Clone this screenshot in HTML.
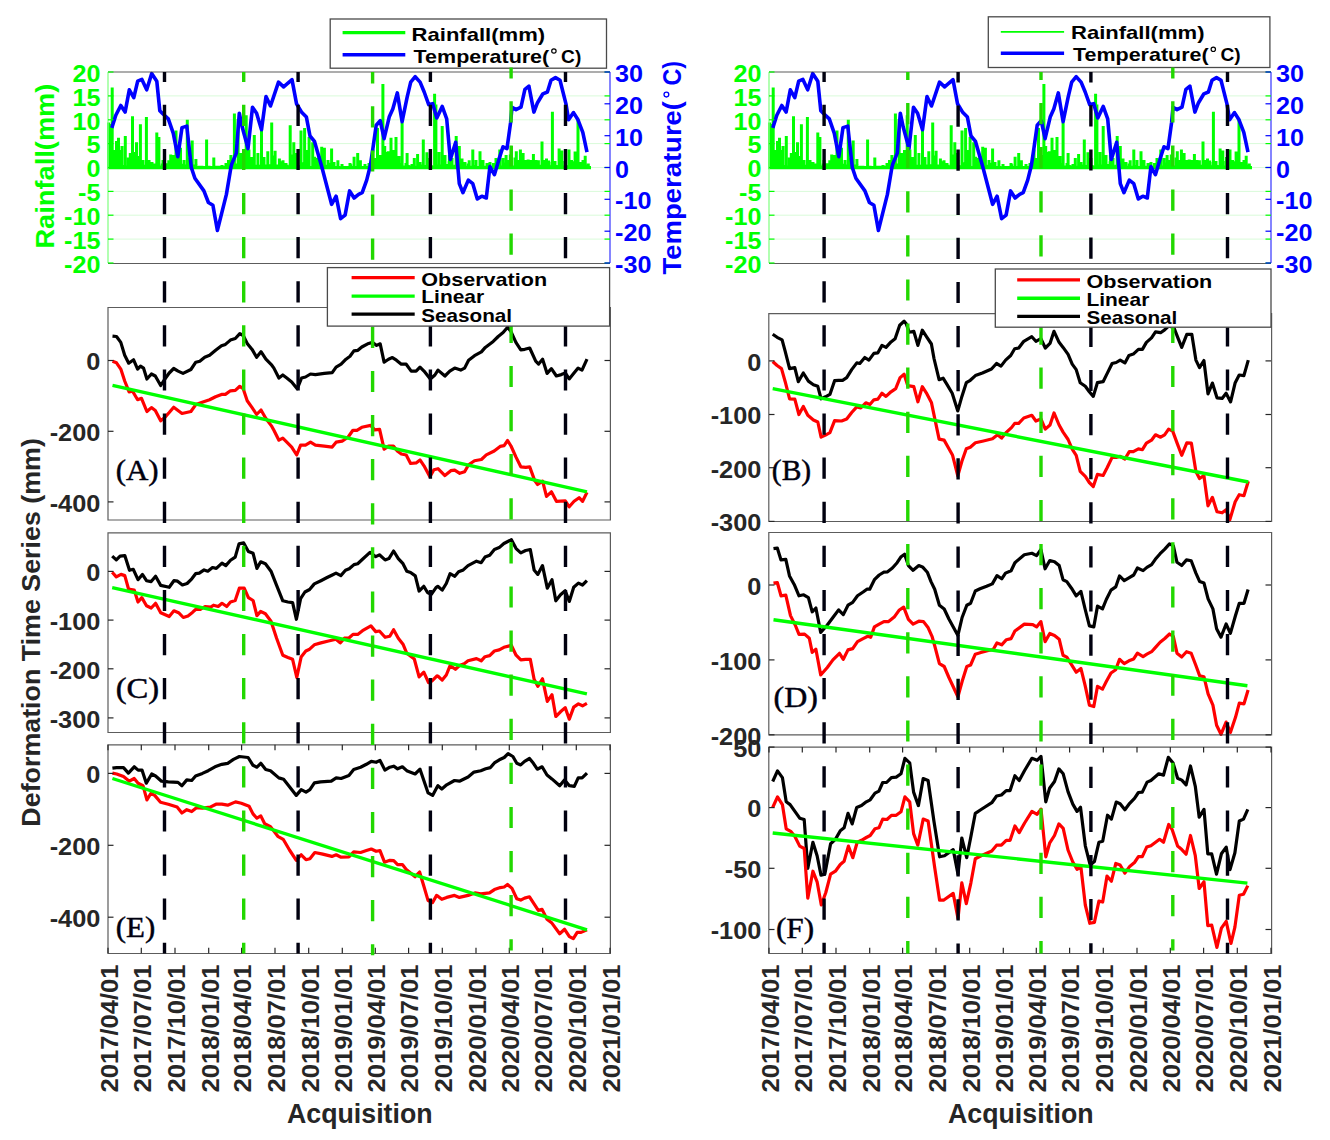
<!DOCTYPE html>
<html><head><meta charset="utf-8"><style>html,body{margin:0;padding:0;background:#fff;}svg{display:block;}</style></head><body>
<svg width="1330" height="1140" viewBox="0 0 1330 1140">
<rect width="1330" height="1140" fill="#fff"/>
<line x1="108" y1="95.9" x2="610" y2="95.9" stroke="#D9FBD9" stroke-width="1" />
<line x1="108" y1="119.8" x2="610" y2="119.8" stroke="#D9FBD9" stroke-width="1" />
<line x1="108" y1="143.6" x2="610" y2="143.6" stroke="#D9FBD9" stroke-width="1" />
<line x1="108" y1="167.5" x2="610" y2="167.5" stroke="#D9FBD9" stroke-width="1" />
<line x1="108" y1="191.4" x2="610" y2="191.4" stroke="#D9FBD9" stroke-width="1" />
<line x1="108" y1="215.2" x2="610" y2="215.2" stroke="#D9FBD9" stroke-width="1" />
<line x1="108" y1="239.1" x2="610" y2="239.1" stroke="#D9FBD9" stroke-width="1" />
<path d="M108 160.9h3.0V169.2h-3.0zM109.2 166.1h3.0V169.2h-3.0zM110.4 162.4h3.0V169.2h-3.0zM111.6 166.1h3.0V169.2h-3.0zM112.8 163.6h3.0V169.2h-3.0zM114 163.6h3.0V169.2h-3.0zM115.2 165.1h3.0V169.2h-3.0zM116.4 165.2h3.0V169.2h-3.0zM117.6 155.6h3.0V169.2h-3.0zM118.8 165.1h3.0V169.2h-3.0zM120 165.6h3.0V169.2h-3.0zM121.2 165.9h3.0V169.2h-3.0zM122.4 165h3.0V169.2h-3.0zM123.6 164.9h3.0V169.2h-3.0zM124.8 165.8h3.0V169.2h-3.0zM126 165.4h3.0V169.2h-3.0zM127.2 165.1h3.0V169.2h-3.0zM128.4 165.7h3.0V169.2h-3.0zM129.6 164.9h3.0V169.2h-3.0zM130.8 165.2h3.0V169.2h-3.0zM132 164.6h3.0V169.2h-3.0zM133.2 165.7h3.0V169.2h-3.0zM134.4 166h3.0V169.2h-3.0zM135.6 161.8h3.0V169.2h-3.0zM136.8 166.1h3.0V169.2h-3.0zM138 164.8h3.0V169.2h-3.0zM139.2 164.6h3.0V169.2h-3.0zM140.4 164.9h3.0V169.2h-3.0zM141.6 165.2h3.0V169.2h-3.0zM142.8 164.7h3.0V169.2h-3.0zM144 165.3h3.0V169.2h-3.0zM145.2 166.1h3.0V169.2h-3.0zM146.4 165h3.0V169.2h-3.0zM147.6 164.7h3.0V169.2h-3.0zM148.8 165.5h3.0V169.2h-3.0zM150 166.2h3.0V169.2h-3.0zM151.2 165.6h3.0V169.2h-3.0zM152.4 163.5h3.0V169.2h-3.0zM153.6 165.5h3.0V169.2h-3.0zM154.8 166.1h3.0V169.2h-3.0zM156 165.2h3.0V169.2h-3.0zM157.2 164.7h3.0V169.2h-3.0zM158.4 165.7h3.0V169.2h-3.0zM159.6 165.6h3.0V169.2h-3.0zM160.8 163.6h3.0V169.2h-3.0zM162 165.8h3.0V169.2h-3.0zM163.2 165.3h3.0V169.2h-3.0zM164.4 163.3h3.0V169.2h-3.0zM165.6 165.5h3.0V169.2h-3.0zM166.8 164.5h3.0V169.2h-3.0zM168 165.3h3.0V169.2h-3.0zM169.2 154.6h3.0V169.2h-3.0zM170.4 164.8h3.0V169.2h-3.0zM171.6 164.8h3.0V169.2h-3.0zM172.8 161h3.0V169.2h-3.0zM174 165h3.0V169.2h-3.0zM175.2 165.9h3.0V169.2h-3.0zM176.4 165.4h3.0V169.2h-3.0zM177.6 166h3.0V169.2h-3.0zM178.8 166.2h3.0V169.2h-3.0zM180 163.8h3.0V169.2h-3.0zM181.2 165.6h3.0V169.2h-3.0zM182.4 166h3.0V169.2h-3.0zM183.6 164.4h3.0V169.2h-3.0zM184.8 164.8h3.0V169.2h-3.0zM186 165.6h3.0V169.2h-3.0zM187.2 164.6h3.0V169.2h-3.0zM188.4 164.5h3.0V169.2h-3.0zM189.6 165.9h3.0V169.2h-3.0zM190.8 166.2h3.0V169.2h-3.0zM192 164.4h3.0V169.2h-3.0zM193.2 164.9h3.0V169.2h-3.0zM194.4 158.9h3.0V169.2h-3.0zM195.6 166h3.0V169.2h-3.0zM196.8 166.1h3.0V169.2h-3.0zM198 165.8h3.0V169.2h-3.0zM199.2 165.8h3.0V169.2h-3.0zM200.4 165.8h3.0V169.2h-3.0zM201.6 166.1h3.0V169.2h-3.0zM202.8 166h3.0V169.2h-3.0zM204 166.1h3.0V169.2h-3.0zM205.2 165.9h3.0V169.2h-3.0zM206.4 166h3.0V169.2h-3.0zM207.6 165.8h3.0V169.2h-3.0zM208.8 166h3.0V169.2h-3.0zM210 166.1h3.0V169.2h-3.0zM211.2 166.1h3.0V169.2h-3.0zM212.4 165.8h3.0V169.2h-3.0zM213.6 166h3.0V169.2h-3.0zM214.8 165.8h3.0V169.2h-3.0zM216 165.9h3.0V169.2h-3.0zM217.2 165.8h3.0V169.2h-3.0zM218.4 166h3.0V169.2h-3.0zM219.6 165.8h3.0V169.2h-3.0zM220.8 165.8h3.0V169.2h-3.0zM222 166h3.0V169.2h-3.0zM223.2 165.8h3.0V169.2h-3.0zM224.4 166.1h3.0V169.2h-3.0zM225.6 166.1h3.0V169.2h-3.0zM226.8 165.8h3.0V169.2h-3.0zM228 165.8h3.0V169.2h-3.0zM229.2 165.9h3.0V169.2h-3.0zM230.4 165.1h3.0V169.2h-3.0zM231.6 164.5h3.0V169.2h-3.0zM232.8 165.3h3.0V169.2h-3.0zM234 165.4h3.0V169.2h-3.0zM235.2 163.4h3.0V169.2h-3.0zM236.4 165.7h3.0V169.2h-3.0zM237.6 165.1h3.0V169.2h-3.0zM238.8 154.6h3.0V169.2h-3.0zM240 165.6h3.0V169.2h-3.0zM241.2 165.1h3.0V169.2h-3.0zM242.4 165.4h3.0V169.2h-3.0zM243.6 165.3h3.0V169.2h-3.0zM244.8 162.6h3.0V169.2h-3.0zM246 158.6h3.0V169.2h-3.0zM247.2 165.9h3.0V169.2h-3.0zM248.4 164.9h3.0V169.2h-3.0zM249.6 165.6h3.0V169.2h-3.0zM250.8 165.2h3.0V169.2h-3.0zM252 166h3.0V169.2h-3.0zM253.2 165.8h3.0V169.2h-3.0zM254.4 164.8h3.0V169.2h-3.0zM255.6 165.2h3.0V169.2h-3.0zM256.8 164.6h3.0V169.2h-3.0zM258 165.1h3.0V169.2h-3.0zM259.2 165.3h3.0V169.2h-3.0zM260.4 165.4h3.0V169.2h-3.0zM261.6 165.3h3.0V169.2h-3.0zM262.8 164.9h3.0V169.2h-3.0zM264 164.5h3.0V169.2h-3.0zM265.2 165.2h3.0V169.2h-3.0zM266.4 164.1h3.0V169.2h-3.0zM267.6 164.2h3.0V169.2h-3.0zM268.8 166.1h3.0V169.2h-3.0zM270 164.8h3.0V169.2h-3.0zM271.2 165.9h3.0V169.2h-3.0zM272.4 155.4h3.0V169.2h-3.0zM273.6 150.7h3.0V169.2h-3.0zM274.8 165.5h3.0V169.2h-3.0zM276 164.4h3.0V169.2h-3.0zM277.2 165.9h3.0V169.2h-3.0zM278.4 165.3h3.0V169.2h-3.0zM279.6 165.8h3.0V169.2h-3.0zM280.8 161.3h3.0V169.2h-3.0zM282 163.6h3.0V169.2h-3.0zM283.2 165.1h3.0V169.2h-3.0zM284.4 166.1h3.0V169.2h-3.0zM285.6 164.8h3.0V169.2h-3.0zM286.8 166h3.0V169.2h-3.0zM288 166.1h3.0V169.2h-3.0zM289.2 163.2h3.0V169.2h-3.0zM290.4 164.6h3.0V169.2h-3.0zM291.6 154.4h3.0V169.2h-3.0zM292.8 165.2h3.0V169.2h-3.0zM294 160.8h3.0V169.2h-3.0zM295.2 152.9h3.0V169.2h-3.0zM296.4 165.1h3.0V169.2h-3.0zM297.6 166h3.0V169.2h-3.0zM298.8 166.1h3.0V169.2h-3.0zM300 165.4h3.0V169.2h-3.0zM301.2 165.2h3.0V169.2h-3.0zM302.4 162.3h3.0V169.2h-3.0zM303.6 165h3.0V169.2h-3.0zM304.8 164.4h3.0V169.2h-3.0zM306 165.7h3.0V169.2h-3.0zM307.2 165.7h3.0V169.2h-3.0zM308.4 165.9h3.0V169.2h-3.0zM309.6 166.2h3.0V169.2h-3.0zM310.8 166.2h3.0V169.2h-3.0zM312 162.3h3.0V169.2h-3.0zM313.2 156.8h3.0V169.2h-3.0zM314.4 165.4h3.0V169.2h-3.0zM315.6 164.7h3.0V169.2h-3.0zM316.8 165.3h3.0V169.2h-3.0zM318 164.4h3.0V169.2h-3.0zM319.2 164.7h3.0V169.2h-3.0zM320.4 165.1h3.0V169.2h-3.0zM321.6 164.9h3.0V169.2h-3.0zM322.8 166.1h3.0V169.2h-3.0zM324 165.3h3.0V169.2h-3.0zM325.2 164.7h3.0V169.2h-3.0zM326.4 165h3.0V169.2h-3.0zM327.6 165.8h3.0V169.2h-3.0zM328.8 162.7h3.0V169.2h-3.0zM330 165.7h3.0V169.2h-3.0zM331.2 164.4h3.0V169.2h-3.0zM332.4 166.1h3.0V169.2h-3.0zM333.6 166.1h3.0V169.2h-3.0zM334.8 166.2h3.0V169.2h-3.0zM336 166h3.0V169.2h-3.0zM337.2 166.1h3.0V169.2h-3.0zM338.4 166.2h3.0V169.2h-3.0zM339.6 166.2h3.0V169.2h-3.0zM340.8 165.9h3.0V169.2h-3.0zM342 166.1h3.0V169.2h-3.0zM343.2 166h3.0V169.2h-3.0zM344.4 166h3.0V169.2h-3.0zM345.6 165.9h3.0V169.2h-3.0zM346.8 166.1h3.0V169.2h-3.0zM348 166.1h3.0V169.2h-3.0zM349.2 164.3h3.0V169.2h-3.0zM350.4 165.9h3.0V169.2h-3.0zM351.6 165.9h3.0V169.2h-3.0zM352.8 166.1h3.0V169.2h-3.0zM354 166h3.0V169.2h-3.0zM355.2 165.9h3.0V169.2h-3.0zM356.4 166h3.0V169.2h-3.0zM357.6 166h3.0V169.2h-3.0zM358.8 166h3.0V169.2h-3.0zM360 166.1h3.0V169.2h-3.0zM361.2 165.9h3.0V169.2h-3.0zM362.4 166h3.0V169.2h-3.0zM363.6 166h3.0V169.2h-3.0zM364.8 166.2h3.0V169.2h-3.0zM366 165.9h3.0V169.2h-3.0zM367.2 166h3.0V169.2h-3.0zM368.4 166.1h3.0V169.2h-3.0zM369.6 164.4h3.0V169.2h-3.0zM370.8 158.8h3.0V169.2h-3.0zM372 164.4h3.0V169.2h-3.0zM373.2 165.5h3.0V169.2h-3.0zM374.4 165h3.0V169.2h-3.0zM375.6 165.1h3.0V169.2h-3.0zM376.8 164.7h3.0V169.2h-3.0zM378 164.9h3.0V169.2h-3.0zM379.2 164.9h3.0V169.2h-3.0zM380.4 165.7h3.0V169.2h-3.0zM381.6 165h3.0V169.2h-3.0zM382.8 165.7h3.0V169.2h-3.0zM384 165.4h3.0V169.2h-3.0zM385.2 166h3.0V169.2h-3.0zM386.4 165.8h3.0V169.2h-3.0zM387.6 161.8h3.0V169.2h-3.0zM388.8 164.7h3.0V169.2h-3.0zM390 165.4h3.0V169.2h-3.0zM391.2 165.8h3.0V169.2h-3.0zM392.4 165.8h3.0V169.2h-3.0zM393.6 165.9h3.0V169.2h-3.0zM394.8 156.8h3.0V169.2h-3.0zM396 165.3h3.0V169.2h-3.0zM397.2 164.9h3.0V169.2h-3.0zM398.4 164.6h3.0V169.2h-3.0zM399.6 163.1h3.0V169.2h-3.0zM400.8 165.4h3.0V169.2h-3.0zM402 165.9h3.0V169.2h-3.0zM403.2 165.6h3.0V169.2h-3.0zM404.4 166.2h3.0V169.2h-3.0zM405.6 152.9h3.0V169.2h-3.0zM406.8 164.9h3.0V169.2h-3.0zM408 165.7h3.0V169.2h-3.0zM409.2 165.5h3.0V169.2h-3.0zM410.4 165.1h3.0V169.2h-3.0zM411.6 165.4h3.0V169.2h-3.0zM412.8 158h3.0V169.2h-3.0zM414 165.7h3.0V169.2h-3.0zM415.2 165.8h3.0V169.2h-3.0zM416.4 163.2h3.0V169.2h-3.0zM417.6 164.5h3.0V169.2h-3.0zM418.8 164.7h3.0V169.2h-3.0zM420 164.6h3.0V169.2h-3.0zM421.2 165.2h3.0V169.2h-3.0zM422.4 166.1h3.0V169.2h-3.0zM423.6 165.4h3.0V169.2h-3.0zM424.8 165h3.0V169.2h-3.0zM426 166.1h3.0V169.2h-3.0zM427.2 166h3.0V169.2h-3.0zM428.4 165.6h3.0V169.2h-3.0zM429.6 164.9h3.0V169.2h-3.0zM430.8 165.7h3.0V169.2h-3.0zM432 165.7h3.0V169.2h-3.0zM433.2 164.7h3.0V169.2h-3.0zM434.4 165.8h3.0V169.2h-3.0zM435.6 165.3h3.0V169.2h-3.0zM436.8 164.6h3.0V169.2h-3.0zM438 164.4h3.0V169.2h-3.0zM439.2 166h3.0V169.2h-3.0zM440.4 166h3.0V169.2h-3.0zM441.6 165.7h3.0V169.2h-3.0zM442.8 164.6h3.0V169.2h-3.0zM444 165.5h3.0V169.2h-3.0zM445.2 165.3h3.0V169.2h-3.0zM446.4 164.1h3.0V169.2h-3.0zM447.6 161.3h3.0V169.2h-3.0zM448.8 165.1h3.0V169.2h-3.0zM450 165.8h3.0V169.2h-3.0zM451.2 165.8h3.0V169.2h-3.0zM452.4 165.4h3.0V169.2h-3.0zM453.6 164.7h3.0V169.2h-3.0zM454.8 160.6h3.0V169.2h-3.0zM456 164.6h3.0V169.2h-3.0zM457.2 162.9h3.0V169.2h-3.0zM458.4 164.5h3.0V169.2h-3.0zM459.6 164.7h3.0V169.2h-3.0zM460.8 166h3.0V169.2h-3.0zM462 166.1h3.0V169.2h-3.0zM463.2 165.8h3.0V169.2h-3.0zM464.4 165.7h3.0V169.2h-3.0zM465.6 165.7h3.0V169.2h-3.0zM466.8 163.5h3.0V169.2h-3.0zM468 166.1h3.0V169.2h-3.0zM469.2 165.8h3.0V169.2h-3.0zM470.4 166.1h3.0V169.2h-3.0zM471.6 165.8h3.0V169.2h-3.0zM472.8 165h3.0V169.2h-3.0zM474 165.8h3.0V169.2h-3.0zM475.2 166.1h3.0V169.2h-3.0zM476.4 166.2h3.0V169.2h-3.0zM477.6 165.9h3.0V169.2h-3.0zM478.8 165.8h3.0V169.2h-3.0zM480 165.9h3.0V169.2h-3.0zM481.2 166h3.0V169.2h-3.0zM482.4 165.8h3.0V169.2h-3.0zM483.6 166.2h3.0V169.2h-3.0zM484.8 165.8h3.0V169.2h-3.0zM486 166h3.0V169.2h-3.0zM487.2 165.6h3.0V169.2h-3.0zM488.4 166.2h3.0V169.2h-3.0zM489.6 165.9h3.0V169.2h-3.0zM490.8 166.1h3.0V169.2h-3.0zM492 165.7h3.0V169.2h-3.0zM493.2 166.1h3.0V169.2h-3.0zM494.4 166h3.0V169.2h-3.0zM495.6 165.8h3.0V169.2h-3.0zM496.8 165h3.0V169.2h-3.0zM498 164.7h3.0V169.2h-3.0zM499.2 165.9h3.0V169.2h-3.0zM500.4 165.5h3.0V169.2h-3.0zM501.6 162.6h3.0V169.2h-3.0zM502.8 165.9h3.0V169.2h-3.0zM504 165.7h3.0V169.2h-3.0zM505.2 165.6h3.0V169.2h-3.0zM506.4 164.8h3.0V169.2h-3.0zM507.6 164.6h3.0V169.2h-3.0zM508.8 154.5h3.0V169.2h-3.0zM510 160.6h3.0V169.2h-3.0zM511.2 165.6h3.0V169.2h-3.0zM512.4 165.7h3.0V169.2h-3.0zM513.6 165.7h3.0V169.2h-3.0zM514.8 151.2h3.0V169.2h-3.0zM516 165.9h3.0V169.2h-3.0zM517.2 164.9h3.0V169.2h-3.0zM518.4 162.9h3.0V169.2h-3.0zM519.6 165.6h3.0V169.2h-3.0zM520.8 165.9h3.0V169.2h-3.0zM522 162.6h3.0V169.2h-3.0zM523.2 164.9h3.0V169.2h-3.0zM524.4 165.9h3.0V169.2h-3.0zM525.6 164.7h3.0V169.2h-3.0zM526.8 165h3.0V169.2h-3.0zM528 165.7h3.0V169.2h-3.0zM529.2 164.6h3.0V169.2h-3.0zM530.4 165.8h3.0V169.2h-3.0zM531.6 165.7h3.0V169.2h-3.0zM532.8 166.2h3.0V169.2h-3.0zM534 164.7h3.0V169.2h-3.0zM535.2 163.6h3.0V169.2h-3.0zM536.4 165.4h3.0V169.2h-3.0zM537.6 164.7h3.0V169.2h-3.0zM538.8 165.8h3.0V169.2h-3.0zM540 165.4h3.0V169.2h-3.0zM541.2 165.9h3.0V169.2h-3.0zM542.4 165h3.0V169.2h-3.0zM543.6 164.9h3.0V169.2h-3.0zM544.8 165.7h3.0V169.2h-3.0zM546 165.6h3.0V169.2h-3.0zM547.2 160.4h3.0V169.2h-3.0zM548.4 165.7h3.0V169.2h-3.0zM549.6 165.3h3.0V169.2h-3.0zM550.8 164.6h3.0V169.2h-3.0zM552 164.6h3.0V169.2h-3.0zM553.2 163.3h3.0V169.2h-3.0zM554.4 165.1h3.0V169.2h-3.0zM555.6 165.8h3.0V169.2h-3.0zM556.8 165.2h3.0V169.2h-3.0zM558 165h3.0V169.2h-3.0zM559.2 157.7h3.0V169.2h-3.0zM560.4 165.7h3.0V169.2h-3.0zM561.6 165.6h3.0V169.2h-3.0zM562.8 165.9h3.0V169.2h-3.0zM564 157.1h3.0V169.2h-3.0zM565.2 165.3h3.0V169.2h-3.0zM566.4 165.6h3.0V169.2h-3.0zM567.6 165.4h3.0V169.2h-3.0zM568.8 164.9h3.0V169.2h-3.0zM570 162h3.0V169.2h-3.0zM571.2 164.9h3.0V169.2h-3.0zM572.4 163.3h3.0V169.2h-3.0zM573.6 151.4h3.0V169.2h-3.0zM574.8 165.3h3.0V169.2h-3.0zM576 165.6h3.0V169.2h-3.0zM577.2 165.5h3.0V169.2h-3.0zM578.4 164.9h3.0V169.2h-3.0zM579.6 166h3.0V169.2h-3.0zM580.8 165.2h3.0V169.2h-3.0zM582 164.7h3.0V169.2h-3.0zM583.2 165.8h3.0V169.2h-3.0zM584.4 165.1h3.0V169.2h-3.0zM585.6 166.2h3.0V169.2h-3.0zM586.8 163.6h3.0V169.2h-3.0zM588 165.9h3.0V169.2h-3.0zM107.1 122.5h3.0V169.2h-3.0zM108.8 124h3.0V169.2h-3.0zM110.7 87.5h3.0V169.2h-3.0zM113 150h3.0V169.2h-3.0zM115 141h3.0V169.2h-3.0zM117 137.8h3.0V169.2h-3.0zM118.8 150h3.0V169.2h-3.0zM120.5 145.9h3.0V169.2h-3.0zM123.8 136h3.0V169.2h-3.0zM126.9 157.6h3.0V169.2h-3.0zM128.8 153h3.0V169.2h-3.0zM131 116.2h3.0V169.2h-3.0zM133 152h3.0V169.2h-3.0zM135 142.3h3.0V169.2h-3.0zM137 156h3.0V169.2h-3.0zM138.9 124.3h3.0V169.2h-3.0zM141.5 160h3.0V169.2h-3.0zM144.9 117.1h3.0V169.2h-3.0zM147.5 160h3.0V169.2h-3.0zM150.5 162h3.0V169.2h-3.0zM155.3 132.4h3.0V169.2h-3.0zM157.4 136.9h3.0V169.2h-3.0zM161.5 160h3.0V169.2h-3.0zM167.3 160.3h3.0V169.2h-3.0zM169.5 161h3.0V169.2h-3.0zM172 155h3.0V169.2h-3.0zM174.5 130.6h3.0V169.2h-3.0zM176.5 158h3.0V169.2h-3.0zM179 147.7h3.0V169.2h-3.0zM182.5 160h3.0V169.2h-3.0zM185.8 119.8h3.0V169.2h-3.0zM188 158h3.0V169.2h-3.0zM190.7 140.5h3.0V169.2h-3.0zM194.5 164h3.0V169.2h-3.0zM205.1 139.6h3.0V169.2h-3.0zM212.3 157.6h3.0V169.2h-3.0zM220.5 165h3.0V169.2h-3.0zM224.5 163h3.0V169.2h-3.0zM227 160h3.0V169.2h-3.0zM229.4 154.9h3.0V169.2h-3.0zM232.9 113.5h3.0V169.2h-3.0zM236.6 118.9h3.0V169.2h-3.0zM239.6 153.1h3.0V169.2h-3.0zM242 150h3.0V169.2h-3.0zM244.7 115.3h3.0V169.2h-3.0zM247.4 149.5h3.0V169.2h-3.0zM250 157h3.0V169.2h-3.0zM252.8 135.1h3.0V169.2h-3.0zM256.4 153h3.0V169.2h-3.0zM260 129.7h3.0V169.2h-3.0zM262.5 157h3.0V169.2h-3.0zM266.3 151.3h3.0V169.2h-3.0zM270.2 122.5h3.0V169.2h-3.0zM273.5 162h3.0V169.2h-3.0zM277.9 158.5h3.0V169.2h-3.0zM281.5 160.3h3.0V169.2h-3.0zM284.5 163h3.0V169.2h-3.0zM288.7 125.2h3.0V169.2h-3.0zM292.3 142.3h3.0V169.2h-3.0zM295.5 160h3.0V169.2h-3.0zM299.5 130.6h3.0V169.2h-3.0zM303.1 127.9h3.0V169.2h-3.0zM305.5 150h3.0V169.2h-3.0zM307.6 136.9h3.0V169.2h-3.0zM311.2 142.3h3.0V169.2h-3.0zM314.5 158h3.0V169.2h-3.0zM317.5 156h3.0V169.2h-3.0zM320.2 146.8h3.0V169.2h-3.0zM322.9 147.7h3.0V169.2h-3.0zM326.5 160h3.0V169.2h-3.0zM330.1 148.6h3.0V169.2h-3.0zM332.5 162h3.0V169.2h-3.0zM336.4 160.3h3.0V169.2h-3.0zM340.5 164h3.0V169.2h-3.0zM348.5 163h3.0V169.2h-3.0zM352.6 156.7h3.0V169.2h-3.0zM356.2 153.1h3.0V169.2h-3.0zM358.9 160.3h3.0V169.2h-3.0zM363.5 164h3.0V169.2h-3.0zM367.5 163h3.0V169.2h-3.0zM371.5 149.5h3.0V169.2h-3.0zM373.5 158h3.0V169.2h-3.0zM376 127.9h3.0V169.2h-3.0zM379 155h3.0V169.2h-3.0zM381.4 83.9h3.0V169.2h-3.0zM383.2 145.9h3.0V169.2h-3.0zM385 152h3.0V169.2h-3.0zM386.8 151.3h3.0V169.2h-3.0zM389.5 137.8h3.0V169.2h-3.0zM392 150h3.0V169.2h-3.0zM394.5 136.9h3.0V169.2h-3.0zM397.5 156h3.0V169.2h-3.0zM400.6 122.5h3.0V169.2h-3.0zM404.5 163h3.0V169.2h-3.0zM410.5 164h3.0V169.2h-3.0zM416.1 154h3.0V169.2h-3.0zM418.5 162h3.0V169.2h-3.0zM421.8 139.6h3.0V169.2h-3.0zM425.4 152.2h3.0V169.2h-3.0zM428.5 158h3.0V169.2h-3.0zM433.1 93.8h3.0V169.2h-3.0zM434.4 104.6h3.0V169.2h-3.0zM437.5 152h3.0V169.2h-3.0zM440.7 126.1h3.0V169.2h-3.0zM443.5 155h3.0V169.2h-3.0zM447.9 154.9h3.0V169.2h-3.0zM450.5 158h3.0V169.2h-3.0zM454.7 136h3.0V169.2h-3.0zM457.8 145.9h3.0V169.2h-3.0zM460.5 158.5h3.0V169.2h-3.0zM463.5 162h3.0V169.2h-3.0zM467.7 160.3h3.0V169.2h-3.0zM471.3 149.5h3.0V169.2h-3.0zM474.5 160h3.0V169.2h-3.0zM478.5 151.3h3.0V169.2h-3.0zM481.5 160h3.0V169.2h-3.0zM485.5 163h3.0V169.2h-3.0zM488.5 162h3.0V169.2h-3.0zM492 163h3.0V169.2h-3.0zM494.5 158h3.0V169.2h-3.0zM498.3 149.5h3.0V169.2h-3.0zM501.5 158h3.0V169.2h-3.0zM504.6 154.9h3.0V169.2h-3.0zM507 160h3.0V169.2h-3.0zM510 145.9h3.0V169.2h-3.0zM513.5 157.6h3.0V169.2h-3.0zM516.5 160h3.0V169.2h-3.0zM518.9 149.5h3.0V169.2h-3.0zM521.6 153.1h3.0V169.2h-3.0zM524.5 160h3.0V169.2h-3.0zM526.7 159.4h3.0V169.2h-3.0zM529.5 160h3.0V169.2h-3.0zM531.9 154h3.0V169.2h-3.0zM534.5 160h3.0V169.2h-3.0zM536.9 160.3h3.0V169.2h-3.0zM540.5 141.4h3.0V169.2h-3.0zM542.5 160h3.0V169.2h-3.0zM545 158.5h3.0V169.2h-3.0zM547.5 162h3.0V169.2h-3.0zM550.9 111.7h3.0V169.2h-3.0zM553.5 161h3.0V169.2h-3.0zM557.6 148.6h3.0V169.2h-3.0zM560.3 150.4h3.0V169.2h-3.0zM563.5 161h3.0V169.2h-3.0zM567.5 149.5h3.0V169.2h-3.0zM570 160h3.0V169.2h-3.0zM572.9 161.2h3.0V169.2h-3.0zM576.5 118.9h3.0V169.2h-3.0zM579.5 162h3.0V169.2h-3.0zM581.5 160h3.0V169.2h-3.0zM583.7 155.8h3.0V169.2h-3.0z" fill="#00FF00"/>
<polyline points="111.8,127.9 115.8,115.3 120.8,105.5 125.1,112.1 129.3,89.8 133.8,97.7 137.7,81.2 141.9,79.4 146.7,89.8 151.7,73.6 156.8,81.2 159.8,110.8 162.5,113.5 168.3,118.9 173.3,133.3 177.8,156.7 182,127.6 186.8,126.1 191.3,167.5 194.9,178.3 203.9,190.9 208.4,202.5 212.9,205.2 217.4,230.4 221.9,212.4 226.4,194.4 230.9,167.5 231.8,163.9 236.3,153.1 239.3,113.2 242.2,127 248,148.6 252.5,107.3 256.6,113.2 261.5,129.7 266,96.5 270.5,106 278.5,82.1 283.6,86.9 292,79.7 296.5,103.7 301.9,112.6 306.4,117.1 310,136 314.5,141.4 321.7,166.6 331.6,204.3 336.1,196.2 340.6,218.7 345.1,215.1 349.6,190.9 354.1,198 358.6,194.4 362.2,192.7 366.7,180.1 370.3,165.7 373,147.7 376.2,125.2 380.2,120.7 384.1,138.7 389.2,117.1 392.8,109 397.3,92.9 402.1,121.6 407.1,97.4 410.7,82.1 415.2,76.7 420.1,82.1 424.2,92 428.7,104.6 432.7,103.7 436.8,118 442.2,106.4 446.7,118.9 450.3,159.4 455.7,142.3 459.3,183.7 462.9,192.7 468.3,180.1 472.8,183.7 477.3,198.9 481.8,196.2 486.3,198 489.9,166.6 494.4,174.7 498.9,159.4 503,146.8 507,148.6 510.6,122.5 512,107.2 516,109.6 521,107.2 524.9,89.3 528.9,86.2 533.9,112.1 537.5,102.7 542.9,93.8 547.4,92 551,80.3 555.5,77.6 560,80.3 565.9,103.6 568.6,119.8 573.5,112.6 578,119.8 582.8,132.4 587,152.2" fill="none" stroke="#0000FF" stroke-width="3.6" stroke-linejoin="round" stroke-linecap="butt" />
<line x1="108" y1="72" x2="610" y2="72" stroke="#262626" stroke-width="1.2" stroke-opacity="0.75"/>
<line x1="108" y1="263.5" x2="610" y2="263.5" stroke="#262626" stroke-width="1.2" stroke-opacity="0.75"/>
<line x1="108" y1="72" x2="108" y2="263" stroke="#88ff88" stroke-width="1.3" />
<line x1="610" y1="72" x2="610" y2="263" stroke="#3333ff" stroke-width="1.2" />
<line x1="108" y1="72" x2="113.5" y2="72" stroke="#00FF00" stroke-width="1.2" />
<line x1="604.5" y1="72" x2="610" y2="72" stroke="#00FF00" stroke-width="1.2" />
<text x="100.4" y="81.8" font-family='"Liberation Sans", sans-serif' font-size="24" font-weight="bold" fill="#00FF00" text-anchor="end" textLength="28" lengthAdjust="spacingAndGlyphs" >20</text>
<line x1="108" y1="95.9" x2="113.5" y2="95.9" stroke="#00FF00" stroke-width="1.2" />
<line x1="604.5" y1="95.9" x2="610" y2="95.9" stroke="#00FF00" stroke-width="1.2" />
<text x="100.4" y="105.7" font-family='"Liberation Sans", sans-serif' font-size="24" font-weight="bold" fill="#00FF00" text-anchor="end" textLength="28" lengthAdjust="spacingAndGlyphs" >15</text>
<line x1="108" y1="119.8" x2="113.5" y2="119.8" stroke="#00FF00" stroke-width="1.2" />
<line x1="604.5" y1="119.8" x2="610" y2="119.8" stroke="#00FF00" stroke-width="1.2" />
<text x="100.4" y="129.6" font-family='"Liberation Sans", sans-serif' font-size="24" font-weight="bold" fill="#00FF00" text-anchor="end" textLength="28" lengthAdjust="spacingAndGlyphs" >10</text>
<line x1="108" y1="143.6" x2="113.5" y2="143.6" stroke="#00FF00" stroke-width="1.2" />
<line x1="604.5" y1="143.6" x2="610" y2="143.6" stroke="#00FF00" stroke-width="1.2" />
<text x="100.4" y="153.4" font-family='"Liberation Sans", sans-serif' font-size="24" font-weight="bold" fill="#00FF00" text-anchor="end" textLength="14" lengthAdjust="spacingAndGlyphs" >5</text>
<line x1="108" y1="167.5" x2="113.5" y2="167.5" stroke="#00FF00" stroke-width="1.2" />
<line x1="604.5" y1="167.5" x2="610" y2="167.5" stroke="#00FF00" stroke-width="1.2" />
<text x="100.4" y="177.3" font-family='"Liberation Sans", sans-serif' font-size="24" font-weight="bold" fill="#00FF00" text-anchor="end" textLength="14" lengthAdjust="spacingAndGlyphs" >0</text>
<line x1="108" y1="191.4" x2="113.5" y2="191.4" stroke="#00FF00" stroke-width="1.2" />
<line x1="604.5" y1="191.4" x2="610" y2="191.4" stroke="#00FF00" stroke-width="1.2" />
<text x="100.4" y="201.2" font-family='"Liberation Sans", sans-serif' font-size="24" font-weight="bold" fill="#00FF00" text-anchor="end" textLength="22.4" lengthAdjust="spacingAndGlyphs" >-5</text>
<line x1="108" y1="215.2" x2="113.5" y2="215.2" stroke="#00FF00" stroke-width="1.2" />
<line x1="604.5" y1="215.2" x2="610" y2="215.2" stroke="#00FF00" stroke-width="1.2" />
<text x="100.4" y="225.1" font-family='"Liberation Sans", sans-serif' font-size="24" font-weight="bold" fill="#00FF00" text-anchor="end" textLength="36.4" lengthAdjust="spacingAndGlyphs" >-10</text>
<line x1="108" y1="239.1" x2="113.5" y2="239.1" stroke="#00FF00" stroke-width="1.2" />
<line x1="604.5" y1="239.1" x2="610" y2="239.1" stroke="#00FF00" stroke-width="1.2" />
<text x="100.4" y="248.9" font-family='"Liberation Sans", sans-serif' font-size="24" font-weight="bold" fill="#00FF00" text-anchor="end" textLength="36.4" lengthAdjust="spacingAndGlyphs" >-15</text>
<line x1="108" y1="263" x2="113.5" y2="263" stroke="#00FF00" stroke-width="1.2" />
<line x1="604.5" y1="263" x2="610" y2="263" stroke="#00FF00" stroke-width="1.2" />
<text x="100.4" y="272.8" font-family='"Liberation Sans", sans-serif' font-size="24" font-weight="bold" fill="#00FF00" text-anchor="end" textLength="36.4" lengthAdjust="spacingAndGlyphs" >-20</text>
<line x1="604.5" y1="72" x2="610" y2="72" stroke="#0000FF" stroke-width="1.2" />
<text x="615" y="82.1" font-family='"Liberation Sans", sans-serif' font-size="24" font-weight="bold" fill="#0000FF" textLength="28" lengthAdjust="spacingAndGlyphs" >30</text>
<line x1="604.5" y1="103.8" x2="610" y2="103.8" stroke="#0000FF" stroke-width="1.2" />
<text x="615" y="113.9" font-family='"Liberation Sans", sans-serif' font-size="24" font-weight="bold" fill="#0000FF" textLength="28" lengthAdjust="spacingAndGlyphs" >20</text>
<line x1="604.5" y1="135.7" x2="610" y2="135.7" stroke="#0000FF" stroke-width="1.2" />
<text x="615" y="145.8" font-family='"Liberation Sans", sans-serif' font-size="24" font-weight="bold" fill="#0000FF" textLength="28" lengthAdjust="spacingAndGlyphs" >10</text>
<line x1="604.5" y1="167.5" x2="610" y2="167.5" stroke="#0000FF" stroke-width="1.2" />
<text x="615" y="177.6" font-family='"Liberation Sans", sans-serif' font-size="24" font-weight="bold" fill="#0000FF" textLength="14" lengthAdjust="spacingAndGlyphs" >0</text>
<line x1="604.5" y1="199.3" x2="610" y2="199.3" stroke="#0000FF" stroke-width="1.2" />
<text x="615" y="209.4" font-family='"Liberation Sans", sans-serif' font-size="24" font-weight="bold" fill="#0000FF" textLength="36.4" lengthAdjust="spacingAndGlyphs" >-10</text>
<line x1="604.5" y1="231.2" x2="610" y2="231.2" stroke="#0000FF" stroke-width="1.2" />
<text x="615" y="241.3" font-family='"Liberation Sans", sans-serif' font-size="24" font-weight="bold" fill="#0000FF" textLength="36.4" lengthAdjust="spacingAndGlyphs" >-20</text>
<line x1="604.5" y1="263" x2="610" y2="263" stroke="#0000FF" stroke-width="1.2" />
<text x="615" y="273.1" font-family='"Liberation Sans", sans-serif' font-size="24" font-weight="bold" fill="#0000FF" textLength="36.4" lengthAdjust="spacingAndGlyphs" >-30</text>
<text x="53.6" y="166.1" font-family='"Liberation Sans", sans-serif' font-size="26" font-weight="bold" fill="#00FF00" text-anchor="middle" textLength="165" lengthAdjust="spacingAndGlyphs" transform="rotate(-90 53.6 166.1)" >Rainfall(mm)</text>
<text x="680.8" y="274.5" font-family='"Liberation Sans", sans-serif' font-size="25.5" font-weight="bold" fill="#0000FF" textLength="173.5" lengthAdjust="spacingAndGlyphs" transform="rotate(-90 680.8 274.5)" >Temperature(</text>
<circle cx="666.4" cy="94.6" r="2.4" fill="none" stroke="#0000FF" stroke-width="1.3"/>
<text x="680.8" y="85.6" font-family='"Liberation Sans", sans-serif' font-size="25.5" font-weight="bold" fill="#0000FF" textLength="24.6" lengthAdjust="spacingAndGlyphs" transform="rotate(-90 680.8 85.6)" >C)</text>
<line x1="769" y1="95.9" x2="1271" y2="95.9" stroke="#D9FBD9" stroke-width="1" />
<line x1="769" y1="119.8" x2="1271" y2="119.8" stroke="#D9FBD9" stroke-width="1" />
<line x1="769" y1="143.6" x2="1271" y2="143.6" stroke="#D9FBD9" stroke-width="1" />
<line x1="769" y1="167.5" x2="1271" y2="167.5" stroke="#D9FBD9" stroke-width="1" />
<line x1="769" y1="191.4" x2="1271" y2="191.4" stroke="#D9FBD9" stroke-width="1" />
<line x1="769" y1="215.2" x2="1271" y2="215.2" stroke="#D9FBD9" stroke-width="1" />
<line x1="769" y1="239.1" x2="1271" y2="239.1" stroke="#D9FBD9" stroke-width="1" />
<path d="M769 160.9h3.0V169.2h-3.0zM770.2 166.1h3.0V169.2h-3.0zM771.4 162.4h3.0V169.2h-3.0zM772.6 166.1h3.0V169.2h-3.0zM773.8 163.6h3.0V169.2h-3.0zM775 163.6h3.0V169.2h-3.0zM776.2 165.1h3.0V169.2h-3.0zM777.4 165.2h3.0V169.2h-3.0zM778.6 155.6h3.0V169.2h-3.0zM779.8 165.1h3.0V169.2h-3.0zM781 165.6h3.0V169.2h-3.0zM782.2 165.9h3.0V169.2h-3.0zM783.4 165h3.0V169.2h-3.0zM784.6 164.9h3.0V169.2h-3.0zM785.8 165.8h3.0V169.2h-3.0zM787 165.4h3.0V169.2h-3.0zM788.2 165.1h3.0V169.2h-3.0zM789.4 165.7h3.0V169.2h-3.0zM790.6 164.9h3.0V169.2h-3.0zM791.8 165.2h3.0V169.2h-3.0zM793 164.6h3.0V169.2h-3.0zM794.2 165.7h3.0V169.2h-3.0zM795.4 166h3.0V169.2h-3.0zM796.6 161.8h3.0V169.2h-3.0zM797.8 166.1h3.0V169.2h-3.0zM799 164.8h3.0V169.2h-3.0zM800.2 164.6h3.0V169.2h-3.0zM801.4 164.9h3.0V169.2h-3.0zM802.6 165.2h3.0V169.2h-3.0zM803.8 164.7h3.0V169.2h-3.0zM805 165.3h3.0V169.2h-3.0zM806.2 166.1h3.0V169.2h-3.0zM807.4 165h3.0V169.2h-3.0zM808.6 164.7h3.0V169.2h-3.0zM809.8 165.5h3.0V169.2h-3.0zM811 166.2h3.0V169.2h-3.0zM812.2 165.6h3.0V169.2h-3.0zM813.4 163.5h3.0V169.2h-3.0zM814.6 165.5h3.0V169.2h-3.0zM815.8 166.1h3.0V169.2h-3.0zM817 165.2h3.0V169.2h-3.0zM818.2 164.7h3.0V169.2h-3.0zM819.4 165.7h3.0V169.2h-3.0zM820.6 165.6h3.0V169.2h-3.0zM821.8 163.6h3.0V169.2h-3.0zM823 165.8h3.0V169.2h-3.0zM824.2 165.3h3.0V169.2h-3.0zM825.4 163.3h3.0V169.2h-3.0zM826.6 165.5h3.0V169.2h-3.0zM827.8 164.5h3.0V169.2h-3.0zM829 165.3h3.0V169.2h-3.0zM830.2 154.6h3.0V169.2h-3.0zM831.4 164.8h3.0V169.2h-3.0zM832.6 164.8h3.0V169.2h-3.0zM833.8 161h3.0V169.2h-3.0zM835 165h3.0V169.2h-3.0zM836.2 165.9h3.0V169.2h-3.0zM837.4 165.4h3.0V169.2h-3.0zM838.6 166h3.0V169.2h-3.0zM839.8 166.2h3.0V169.2h-3.0zM841 163.8h3.0V169.2h-3.0zM842.2 165.6h3.0V169.2h-3.0zM843.4 166h3.0V169.2h-3.0zM844.6 164.4h3.0V169.2h-3.0zM845.8 164.8h3.0V169.2h-3.0zM847 165.6h3.0V169.2h-3.0zM848.2 164.6h3.0V169.2h-3.0zM849.4 164.5h3.0V169.2h-3.0zM850.6 165.9h3.0V169.2h-3.0zM851.8 166.2h3.0V169.2h-3.0zM853 164.4h3.0V169.2h-3.0zM854.2 164.9h3.0V169.2h-3.0zM855.4 158.9h3.0V169.2h-3.0zM856.6 166h3.0V169.2h-3.0zM857.8 166.1h3.0V169.2h-3.0zM859 165.8h3.0V169.2h-3.0zM860.2 165.8h3.0V169.2h-3.0zM861.4 165.8h3.0V169.2h-3.0zM862.6 166.1h3.0V169.2h-3.0zM863.8 166h3.0V169.2h-3.0zM865 166.1h3.0V169.2h-3.0zM866.2 165.9h3.0V169.2h-3.0zM867.4 166h3.0V169.2h-3.0zM868.6 165.8h3.0V169.2h-3.0zM869.8 166h3.0V169.2h-3.0zM871 166.1h3.0V169.2h-3.0zM872.2 166.1h3.0V169.2h-3.0zM873.4 165.8h3.0V169.2h-3.0zM874.6 166h3.0V169.2h-3.0zM875.8 165.8h3.0V169.2h-3.0zM877 165.9h3.0V169.2h-3.0zM878.2 165.8h3.0V169.2h-3.0zM879.4 166h3.0V169.2h-3.0zM880.6 165.8h3.0V169.2h-3.0zM881.8 165.8h3.0V169.2h-3.0zM883 166h3.0V169.2h-3.0zM884.2 165.8h3.0V169.2h-3.0zM885.4 166.1h3.0V169.2h-3.0zM886.6 166.1h3.0V169.2h-3.0zM887.8 165.8h3.0V169.2h-3.0zM889 165.8h3.0V169.2h-3.0zM890.2 165.9h3.0V169.2h-3.0zM891.4 165.1h3.0V169.2h-3.0zM892.6 164.5h3.0V169.2h-3.0zM893.8 165.3h3.0V169.2h-3.0zM895 165.4h3.0V169.2h-3.0zM896.2 163.4h3.0V169.2h-3.0zM897.4 165.7h3.0V169.2h-3.0zM898.6 165.1h3.0V169.2h-3.0zM899.8 154.6h3.0V169.2h-3.0zM901 165.6h3.0V169.2h-3.0zM902.2 165.1h3.0V169.2h-3.0zM903.4 165.4h3.0V169.2h-3.0zM904.6 165.3h3.0V169.2h-3.0zM905.8 162.6h3.0V169.2h-3.0zM907 158.6h3.0V169.2h-3.0zM908.2 165.9h3.0V169.2h-3.0zM909.4 164.9h3.0V169.2h-3.0zM910.6 165.6h3.0V169.2h-3.0zM911.8 165.2h3.0V169.2h-3.0zM913 166h3.0V169.2h-3.0zM914.2 165.8h3.0V169.2h-3.0zM915.4 164.8h3.0V169.2h-3.0zM916.6 165.2h3.0V169.2h-3.0zM917.8 164.6h3.0V169.2h-3.0zM919 165.1h3.0V169.2h-3.0zM920.2 165.3h3.0V169.2h-3.0zM921.4 165.4h3.0V169.2h-3.0zM922.6 165.3h3.0V169.2h-3.0zM923.8 164.9h3.0V169.2h-3.0zM925 164.5h3.0V169.2h-3.0zM926.2 165.2h3.0V169.2h-3.0zM927.4 164.1h3.0V169.2h-3.0zM928.6 164.2h3.0V169.2h-3.0zM929.8 166.1h3.0V169.2h-3.0zM931 164.8h3.0V169.2h-3.0zM932.2 165.9h3.0V169.2h-3.0zM933.4 155.4h3.0V169.2h-3.0zM934.6 150.7h3.0V169.2h-3.0zM935.8 165.5h3.0V169.2h-3.0zM937 164.4h3.0V169.2h-3.0zM938.2 165.9h3.0V169.2h-3.0zM939.4 165.3h3.0V169.2h-3.0zM940.6 165.8h3.0V169.2h-3.0zM941.8 161.3h3.0V169.2h-3.0zM943 163.6h3.0V169.2h-3.0zM944.2 165.1h3.0V169.2h-3.0zM945.4 166.1h3.0V169.2h-3.0zM946.6 164.8h3.0V169.2h-3.0zM947.8 166h3.0V169.2h-3.0zM949 166.1h3.0V169.2h-3.0zM950.2 163.2h3.0V169.2h-3.0zM951.4 164.6h3.0V169.2h-3.0zM952.6 154.4h3.0V169.2h-3.0zM953.8 165.2h3.0V169.2h-3.0zM955 160.8h3.0V169.2h-3.0zM956.2 152.9h3.0V169.2h-3.0zM957.4 165.1h3.0V169.2h-3.0zM958.6 166h3.0V169.2h-3.0zM959.8 166.1h3.0V169.2h-3.0zM961 165.4h3.0V169.2h-3.0zM962.2 165.2h3.0V169.2h-3.0zM963.4 162.3h3.0V169.2h-3.0zM964.6 165h3.0V169.2h-3.0zM965.8 164.4h3.0V169.2h-3.0zM967 165.7h3.0V169.2h-3.0zM968.2 165.7h3.0V169.2h-3.0zM969.4 165.9h3.0V169.2h-3.0zM970.6 166.2h3.0V169.2h-3.0zM971.8 166.2h3.0V169.2h-3.0zM973 162.3h3.0V169.2h-3.0zM974.2 156.8h3.0V169.2h-3.0zM975.4 165.4h3.0V169.2h-3.0zM976.6 164.7h3.0V169.2h-3.0zM977.8 165.3h3.0V169.2h-3.0zM979 164.4h3.0V169.2h-3.0zM980.2 164.7h3.0V169.2h-3.0zM981.4 165.1h3.0V169.2h-3.0zM982.6 164.9h3.0V169.2h-3.0zM983.8 166.1h3.0V169.2h-3.0zM985 165.3h3.0V169.2h-3.0zM986.2 164.7h3.0V169.2h-3.0zM987.4 165h3.0V169.2h-3.0zM988.6 165.8h3.0V169.2h-3.0zM989.8 162.7h3.0V169.2h-3.0zM991 165.7h3.0V169.2h-3.0zM992.2 164.4h3.0V169.2h-3.0zM993.4 166.1h3.0V169.2h-3.0zM994.6 166.1h3.0V169.2h-3.0zM995.8 166.2h3.0V169.2h-3.0zM997 166h3.0V169.2h-3.0zM998.2 166.1h3.0V169.2h-3.0zM999.4 166.2h3.0V169.2h-3.0zM1000.6 166.2h3.0V169.2h-3.0zM1001.8 165.9h3.0V169.2h-3.0zM1003 166.1h3.0V169.2h-3.0zM1004.2 166h3.0V169.2h-3.0zM1005.4 166h3.0V169.2h-3.0zM1006.6 165.9h3.0V169.2h-3.0zM1007.8 166.1h3.0V169.2h-3.0zM1009 166.1h3.0V169.2h-3.0zM1010.2 164.3h3.0V169.2h-3.0zM1011.4 165.9h3.0V169.2h-3.0zM1012.6 165.9h3.0V169.2h-3.0zM1013.8 166.1h3.0V169.2h-3.0zM1015 166h3.0V169.2h-3.0zM1016.2 165.9h3.0V169.2h-3.0zM1017.4 166h3.0V169.2h-3.0zM1018.6 166h3.0V169.2h-3.0zM1019.8 166h3.0V169.2h-3.0zM1021 166.1h3.0V169.2h-3.0zM1022.2 165.9h3.0V169.2h-3.0zM1023.4 166h3.0V169.2h-3.0zM1024.6 166h3.0V169.2h-3.0zM1025.8 166.2h3.0V169.2h-3.0zM1027 165.9h3.0V169.2h-3.0zM1028.2 166h3.0V169.2h-3.0zM1029.4 166.1h3.0V169.2h-3.0zM1030.6 164.4h3.0V169.2h-3.0zM1031.8 158.8h3.0V169.2h-3.0zM1033 164.4h3.0V169.2h-3.0zM1034.2 165.5h3.0V169.2h-3.0zM1035.4 165h3.0V169.2h-3.0zM1036.6 165.1h3.0V169.2h-3.0zM1037.8 164.7h3.0V169.2h-3.0zM1039 164.9h3.0V169.2h-3.0zM1040.2 164.9h3.0V169.2h-3.0zM1041.4 165.7h3.0V169.2h-3.0zM1042.6 165h3.0V169.2h-3.0zM1043.8 165.7h3.0V169.2h-3.0zM1045 165.4h3.0V169.2h-3.0zM1046.2 166h3.0V169.2h-3.0zM1047.4 165.8h3.0V169.2h-3.0zM1048.6 161.8h3.0V169.2h-3.0zM1049.8 164.7h3.0V169.2h-3.0zM1051 165.4h3.0V169.2h-3.0zM1052.2 165.8h3.0V169.2h-3.0zM1053.4 165.8h3.0V169.2h-3.0zM1054.6 165.9h3.0V169.2h-3.0zM1055.8 156.8h3.0V169.2h-3.0zM1057 165.3h3.0V169.2h-3.0zM1058.2 164.9h3.0V169.2h-3.0zM1059.4 164.6h3.0V169.2h-3.0zM1060.6 163.1h3.0V169.2h-3.0zM1061.8 165.4h3.0V169.2h-3.0zM1063 165.9h3.0V169.2h-3.0zM1064.2 165.6h3.0V169.2h-3.0zM1065.4 166.2h3.0V169.2h-3.0zM1066.6 152.9h3.0V169.2h-3.0zM1067.8 164.9h3.0V169.2h-3.0zM1069 165.7h3.0V169.2h-3.0zM1070.2 165.5h3.0V169.2h-3.0zM1071.4 165.1h3.0V169.2h-3.0zM1072.6 165.4h3.0V169.2h-3.0zM1073.8 158h3.0V169.2h-3.0zM1075 165.7h3.0V169.2h-3.0zM1076.2 165.8h3.0V169.2h-3.0zM1077.4 163.2h3.0V169.2h-3.0zM1078.6 164.5h3.0V169.2h-3.0zM1079.8 164.7h3.0V169.2h-3.0zM1081 164.6h3.0V169.2h-3.0zM1082.2 165.2h3.0V169.2h-3.0zM1083.4 166.1h3.0V169.2h-3.0zM1084.6 165.4h3.0V169.2h-3.0zM1085.8 165h3.0V169.2h-3.0zM1087 166.1h3.0V169.2h-3.0zM1088.2 166h3.0V169.2h-3.0zM1089.4 165.6h3.0V169.2h-3.0zM1090.6 164.9h3.0V169.2h-3.0zM1091.8 165.7h3.0V169.2h-3.0zM1093 165.7h3.0V169.2h-3.0zM1094.2 164.7h3.0V169.2h-3.0zM1095.4 165.8h3.0V169.2h-3.0zM1096.6 165.3h3.0V169.2h-3.0zM1097.8 164.6h3.0V169.2h-3.0zM1099 164.4h3.0V169.2h-3.0zM1100.2 166h3.0V169.2h-3.0zM1101.4 166h3.0V169.2h-3.0zM1102.6 165.7h3.0V169.2h-3.0zM1103.8 164.6h3.0V169.2h-3.0zM1105 165.5h3.0V169.2h-3.0zM1106.2 165.3h3.0V169.2h-3.0zM1107.4 164.1h3.0V169.2h-3.0zM1108.6 161.3h3.0V169.2h-3.0zM1109.8 165.1h3.0V169.2h-3.0zM1111 165.8h3.0V169.2h-3.0zM1112.2 165.8h3.0V169.2h-3.0zM1113.4 165.4h3.0V169.2h-3.0zM1114.6 164.7h3.0V169.2h-3.0zM1115.8 160.6h3.0V169.2h-3.0zM1117 164.6h3.0V169.2h-3.0zM1118.2 162.9h3.0V169.2h-3.0zM1119.4 164.5h3.0V169.2h-3.0zM1120.6 164.7h3.0V169.2h-3.0zM1121.8 166h3.0V169.2h-3.0zM1123 166.1h3.0V169.2h-3.0zM1124.2 165.8h3.0V169.2h-3.0zM1125.4 165.7h3.0V169.2h-3.0zM1126.6 165.7h3.0V169.2h-3.0zM1127.8 163.5h3.0V169.2h-3.0zM1129 166.1h3.0V169.2h-3.0zM1130.2 165.8h3.0V169.2h-3.0zM1131.4 166.1h3.0V169.2h-3.0zM1132.6 165.8h3.0V169.2h-3.0zM1133.8 165h3.0V169.2h-3.0zM1135 165.8h3.0V169.2h-3.0zM1136.2 166.1h3.0V169.2h-3.0zM1137.4 166.2h3.0V169.2h-3.0zM1138.6 165.9h3.0V169.2h-3.0zM1139.8 165.8h3.0V169.2h-3.0zM1141 165.9h3.0V169.2h-3.0zM1142.2 166h3.0V169.2h-3.0zM1143.4 165.8h3.0V169.2h-3.0zM1144.6 166.2h3.0V169.2h-3.0zM1145.8 165.8h3.0V169.2h-3.0zM1147 166h3.0V169.2h-3.0zM1148.2 165.6h3.0V169.2h-3.0zM1149.4 166.2h3.0V169.2h-3.0zM1150.6 165.9h3.0V169.2h-3.0zM1151.8 166.1h3.0V169.2h-3.0zM1153 165.7h3.0V169.2h-3.0zM1154.2 166.1h3.0V169.2h-3.0zM1155.4 166h3.0V169.2h-3.0zM1156.6 165.8h3.0V169.2h-3.0zM1157.8 165h3.0V169.2h-3.0zM1159 164.7h3.0V169.2h-3.0zM1160.2 165.9h3.0V169.2h-3.0zM1161.4 165.5h3.0V169.2h-3.0zM1162.6 162.6h3.0V169.2h-3.0zM1163.8 165.9h3.0V169.2h-3.0zM1165 165.7h3.0V169.2h-3.0zM1166.2 165.6h3.0V169.2h-3.0zM1167.4 164.8h3.0V169.2h-3.0zM1168.6 164.6h3.0V169.2h-3.0zM1169.8 154.5h3.0V169.2h-3.0zM1171 160.6h3.0V169.2h-3.0zM1172.2 165.6h3.0V169.2h-3.0zM1173.4 165.7h3.0V169.2h-3.0zM1174.6 165.7h3.0V169.2h-3.0zM1175.8 151.2h3.0V169.2h-3.0zM1177 165.9h3.0V169.2h-3.0zM1178.2 164.9h3.0V169.2h-3.0zM1179.4 162.9h3.0V169.2h-3.0zM1180.6 165.6h3.0V169.2h-3.0zM1181.8 165.9h3.0V169.2h-3.0zM1183 162.6h3.0V169.2h-3.0zM1184.2 164.9h3.0V169.2h-3.0zM1185.4 165.9h3.0V169.2h-3.0zM1186.6 164.7h3.0V169.2h-3.0zM1187.8 165h3.0V169.2h-3.0zM1189 165.7h3.0V169.2h-3.0zM1190.2 164.6h3.0V169.2h-3.0zM1191.4 165.8h3.0V169.2h-3.0zM1192.6 165.7h3.0V169.2h-3.0zM1193.8 166.2h3.0V169.2h-3.0zM1195 164.7h3.0V169.2h-3.0zM1196.2 163.6h3.0V169.2h-3.0zM1197.4 165.4h3.0V169.2h-3.0zM1198.6 164.7h3.0V169.2h-3.0zM1199.8 165.8h3.0V169.2h-3.0zM1201 165.4h3.0V169.2h-3.0zM1202.2 165.9h3.0V169.2h-3.0zM1203.4 165h3.0V169.2h-3.0zM1204.6 164.9h3.0V169.2h-3.0zM1205.8 165.7h3.0V169.2h-3.0zM1207 165.6h3.0V169.2h-3.0zM1208.2 160.4h3.0V169.2h-3.0zM1209.4 165.7h3.0V169.2h-3.0zM1210.6 165.3h3.0V169.2h-3.0zM1211.8 164.6h3.0V169.2h-3.0zM1213 164.6h3.0V169.2h-3.0zM1214.2 163.3h3.0V169.2h-3.0zM1215.4 165.1h3.0V169.2h-3.0zM1216.6 165.8h3.0V169.2h-3.0zM1217.8 165.2h3.0V169.2h-3.0zM1219 165h3.0V169.2h-3.0zM1220.2 157.7h3.0V169.2h-3.0zM1221.4 165.7h3.0V169.2h-3.0zM1222.6 165.6h3.0V169.2h-3.0zM1223.8 165.9h3.0V169.2h-3.0zM1225 157.1h3.0V169.2h-3.0zM1226.2 165.3h3.0V169.2h-3.0zM1227.4 165.6h3.0V169.2h-3.0zM1228.6 165.4h3.0V169.2h-3.0zM1229.8 164.9h3.0V169.2h-3.0zM1231 162h3.0V169.2h-3.0zM1232.2 164.9h3.0V169.2h-3.0zM1233.4 163.3h3.0V169.2h-3.0zM1234.6 151.4h3.0V169.2h-3.0zM1235.8 165.3h3.0V169.2h-3.0zM1237 165.6h3.0V169.2h-3.0zM1238.2 165.5h3.0V169.2h-3.0zM1239.4 164.9h3.0V169.2h-3.0zM1240.6 166h3.0V169.2h-3.0zM1241.8 165.2h3.0V169.2h-3.0zM1243 164.7h3.0V169.2h-3.0zM1244.2 165.8h3.0V169.2h-3.0zM1245.4 165.1h3.0V169.2h-3.0zM1246.6 166.2h3.0V169.2h-3.0zM1247.8 163.6h3.0V169.2h-3.0zM1249 165.9h3.0V169.2h-3.0zM768.1 122.5h3.0V169.2h-3.0zM769.8 124h3.0V169.2h-3.0zM771.7 87.5h3.0V169.2h-3.0zM774 150h3.0V169.2h-3.0zM776 141h3.0V169.2h-3.0zM778 137.8h3.0V169.2h-3.0zM779.8 150h3.0V169.2h-3.0zM781.5 145.9h3.0V169.2h-3.0zM784.8 136h3.0V169.2h-3.0zM787.9 157.6h3.0V169.2h-3.0zM789.8 153h3.0V169.2h-3.0zM792 116.2h3.0V169.2h-3.0zM794 152h3.0V169.2h-3.0zM796 142.3h3.0V169.2h-3.0zM798 156h3.0V169.2h-3.0zM799.9 124.3h3.0V169.2h-3.0zM802.5 160h3.0V169.2h-3.0zM805.9 117.1h3.0V169.2h-3.0zM808.5 160h3.0V169.2h-3.0zM811.5 162h3.0V169.2h-3.0zM816.3 132.4h3.0V169.2h-3.0zM818.4 136.9h3.0V169.2h-3.0zM822.5 160h3.0V169.2h-3.0zM828.3 160.3h3.0V169.2h-3.0zM830.5 161h3.0V169.2h-3.0zM833 155h3.0V169.2h-3.0zM835.5 130.6h3.0V169.2h-3.0zM837.5 158h3.0V169.2h-3.0zM840 147.7h3.0V169.2h-3.0zM843.5 160h3.0V169.2h-3.0zM846.8 119.8h3.0V169.2h-3.0zM849 158h3.0V169.2h-3.0zM851.7 140.5h3.0V169.2h-3.0zM855.5 164h3.0V169.2h-3.0zM866.1 139.6h3.0V169.2h-3.0zM873.3 157.6h3.0V169.2h-3.0zM881.5 165h3.0V169.2h-3.0zM885.5 163h3.0V169.2h-3.0zM888 160h3.0V169.2h-3.0zM890.4 154.9h3.0V169.2h-3.0zM893.9 113.5h3.0V169.2h-3.0zM897.6 118.9h3.0V169.2h-3.0zM900.6 153.1h3.0V169.2h-3.0zM903 150h3.0V169.2h-3.0zM905.7 115.3h3.0V169.2h-3.0zM908.4 149.5h3.0V169.2h-3.0zM911 157h3.0V169.2h-3.0zM913.8 135.1h3.0V169.2h-3.0zM917.4 153h3.0V169.2h-3.0zM921 129.7h3.0V169.2h-3.0zM923.5 157h3.0V169.2h-3.0zM927.3 151.3h3.0V169.2h-3.0zM931.2 122.5h3.0V169.2h-3.0zM934.5 162h3.0V169.2h-3.0zM938.9 158.5h3.0V169.2h-3.0zM942.5 160.3h3.0V169.2h-3.0zM945.5 163h3.0V169.2h-3.0zM949.7 125.2h3.0V169.2h-3.0zM953.3 142.3h3.0V169.2h-3.0zM956.5 160h3.0V169.2h-3.0zM960.5 130.6h3.0V169.2h-3.0zM964.1 127.9h3.0V169.2h-3.0zM966.5 150h3.0V169.2h-3.0zM968.6 136.9h3.0V169.2h-3.0zM972.2 142.3h3.0V169.2h-3.0zM975.5 158h3.0V169.2h-3.0zM978.5 156h3.0V169.2h-3.0zM981.2 146.8h3.0V169.2h-3.0zM983.9 147.7h3.0V169.2h-3.0zM987.5 160h3.0V169.2h-3.0zM991.1 148.6h3.0V169.2h-3.0zM993.5 162h3.0V169.2h-3.0zM997.4 160.3h3.0V169.2h-3.0zM1001.5 164h3.0V169.2h-3.0zM1009.5 163h3.0V169.2h-3.0zM1013.6 156.7h3.0V169.2h-3.0zM1017.2 153.1h3.0V169.2h-3.0zM1019.9 160.3h3.0V169.2h-3.0zM1024.5 164h3.0V169.2h-3.0zM1028.5 163h3.0V169.2h-3.0zM1032.5 149.5h3.0V169.2h-3.0zM1034.5 158h3.0V169.2h-3.0zM1037 127.9h3.0V169.2h-3.0zM1040 155h3.0V169.2h-3.0zM1042.4 83.9h3.0V169.2h-3.0zM1044.2 145.9h3.0V169.2h-3.0zM1046 152h3.0V169.2h-3.0zM1047.8 151.3h3.0V169.2h-3.0zM1050.5 137.8h3.0V169.2h-3.0zM1053 150h3.0V169.2h-3.0zM1055.5 136.9h3.0V169.2h-3.0zM1058.5 156h3.0V169.2h-3.0zM1061.6 122.5h3.0V169.2h-3.0zM1065.5 163h3.0V169.2h-3.0zM1071.5 164h3.0V169.2h-3.0zM1077.1 154h3.0V169.2h-3.0zM1079.5 162h3.0V169.2h-3.0zM1082.8 139.6h3.0V169.2h-3.0zM1086.4 152.2h3.0V169.2h-3.0zM1089.5 158h3.0V169.2h-3.0zM1094.1 93.8h3.0V169.2h-3.0zM1095.4 104.6h3.0V169.2h-3.0zM1098.5 152h3.0V169.2h-3.0zM1101.7 126.1h3.0V169.2h-3.0zM1104.5 155h3.0V169.2h-3.0zM1108.9 154.9h3.0V169.2h-3.0zM1111.5 158h3.0V169.2h-3.0zM1115.7 136h3.0V169.2h-3.0zM1118.8 145.9h3.0V169.2h-3.0zM1121.5 158.5h3.0V169.2h-3.0zM1124.5 162h3.0V169.2h-3.0zM1128.7 160.3h3.0V169.2h-3.0zM1132.3 149.5h3.0V169.2h-3.0zM1135.5 160h3.0V169.2h-3.0zM1139.5 151.3h3.0V169.2h-3.0zM1142.5 160h3.0V169.2h-3.0zM1146.5 163h3.0V169.2h-3.0zM1149.5 162h3.0V169.2h-3.0zM1153 163h3.0V169.2h-3.0zM1155.5 158h3.0V169.2h-3.0zM1159.3 149.5h3.0V169.2h-3.0zM1162.5 158h3.0V169.2h-3.0zM1165.6 154.9h3.0V169.2h-3.0zM1168 160h3.0V169.2h-3.0zM1171 145.9h3.0V169.2h-3.0zM1174.5 157.6h3.0V169.2h-3.0zM1177.5 160h3.0V169.2h-3.0zM1179.9 149.5h3.0V169.2h-3.0zM1182.6 153.1h3.0V169.2h-3.0zM1185.5 160h3.0V169.2h-3.0zM1187.7 159.4h3.0V169.2h-3.0zM1190.5 160h3.0V169.2h-3.0zM1192.9 154h3.0V169.2h-3.0zM1195.5 160h3.0V169.2h-3.0zM1197.9 160.3h3.0V169.2h-3.0zM1201.5 141.4h3.0V169.2h-3.0zM1203.5 160h3.0V169.2h-3.0zM1206 158.5h3.0V169.2h-3.0zM1208.5 162h3.0V169.2h-3.0zM1211.9 111.7h3.0V169.2h-3.0zM1214.5 161h3.0V169.2h-3.0zM1218.6 148.6h3.0V169.2h-3.0zM1221.3 150.4h3.0V169.2h-3.0zM1224.5 161h3.0V169.2h-3.0zM1228.5 149.5h3.0V169.2h-3.0zM1231 160h3.0V169.2h-3.0zM1233.9 161.2h3.0V169.2h-3.0zM1237.5 118.9h3.0V169.2h-3.0zM1240.5 162h3.0V169.2h-3.0zM1242.5 160h3.0V169.2h-3.0zM1244.7 155.8h3.0V169.2h-3.0z" fill="#00FF00"/>
<polyline points="772.8,127.9 776.8,115.3 781.8,105.5 786.1,112.1 790.3,89.8 794.8,97.7 798.7,81.2 802.9,79.4 807.7,89.8 812.7,73.6 817.8,81.2 820.8,110.8 823.5,113.5 829.3,118.9 834.3,133.3 838.8,156.7 843,127.6 847.8,126.1 852.3,167.5 855.9,178.3 864.9,190.9 869.4,202.5 873.9,205.2 878.4,230.4 882.9,212.4 887.4,194.4 891.9,167.5 892.8,163.9 897.3,153.1 900.3,113.2 903.2,127 909,148.6 913.5,107.3 917.6,113.2 922.5,129.7 927,96.5 931.5,106 939.5,82.1 944.6,86.9 953,79.7 957.5,103.7 962.9,112.6 967.4,117.1 971,136 975.5,141.4 982.7,166.6 992.6,204.3 997.1,196.2 1001.6,218.7 1006.1,215.1 1010.6,190.9 1015.1,198 1019.6,194.4 1023.2,192.7 1027.7,180.1 1031.3,165.7 1034,147.7 1037.2,125.2 1041.2,120.7 1045.1,138.7 1050.2,117.1 1053.8,109 1058.3,92.9 1063.1,121.6 1068.1,97.4 1071.7,82.1 1076.2,76.7 1081.1,82.1 1085.2,92 1089.7,104.6 1093.7,103.7 1097.8,118 1103.2,106.4 1107.7,118.9 1111.3,159.4 1116.7,142.3 1120.3,183.7 1123.9,192.7 1129.3,180.1 1133.8,183.7 1138.3,198.9 1142.8,196.2 1147.3,198 1150.9,166.6 1155.4,174.7 1159.9,159.4 1164,146.8 1168,148.6 1171.6,122.5 1173,107.2 1177,109.6 1182,107.2 1185.9,89.3 1189.9,86.2 1194.9,112.1 1198.5,102.7 1203.9,93.8 1208.4,92 1212,80.3 1216.5,77.6 1221,80.3 1226.9,103.6 1229.6,119.8 1234.5,112.6 1239,119.8 1243.8,132.4 1248,152.2" fill="none" stroke="#0000FF" stroke-width="3.6" stroke-linejoin="round" stroke-linecap="butt" />
<line x1="769" y1="72" x2="1271" y2="72" stroke="#262626" stroke-width="1.2" stroke-opacity="0.75"/>
<line x1="769" y1="263.5" x2="1271" y2="263.5" stroke="#262626" stroke-width="1.2" stroke-opacity="0.75"/>
<line x1="769" y1="72" x2="769" y2="263" stroke="#88ff88" stroke-width="1.3" />
<line x1="1271" y1="72" x2="1271" y2="263" stroke="#3333ff" stroke-width="1.2" />
<line x1="769" y1="72" x2="774.5" y2="72" stroke="#00FF00" stroke-width="1.2" />
<line x1="1265.5" y1="72" x2="1271" y2="72" stroke="#00FF00" stroke-width="1.2" />
<text x="761.4" y="81.8" font-family='"Liberation Sans", sans-serif' font-size="24" font-weight="bold" fill="#00FF00" text-anchor="end" textLength="28" lengthAdjust="spacingAndGlyphs" >20</text>
<line x1="769" y1="95.9" x2="774.5" y2="95.9" stroke="#00FF00" stroke-width="1.2" />
<line x1="1265.5" y1="95.9" x2="1271" y2="95.9" stroke="#00FF00" stroke-width="1.2" />
<text x="761.4" y="105.7" font-family='"Liberation Sans", sans-serif' font-size="24" font-weight="bold" fill="#00FF00" text-anchor="end" textLength="28" lengthAdjust="spacingAndGlyphs" >15</text>
<line x1="769" y1="119.8" x2="774.5" y2="119.8" stroke="#00FF00" stroke-width="1.2" />
<line x1="1265.5" y1="119.8" x2="1271" y2="119.8" stroke="#00FF00" stroke-width="1.2" />
<text x="761.4" y="129.6" font-family='"Liberation Sans", sans-serif' font-size="24" font-weight="bold" fill="#00FF00" text-anchor="end" textLength="28" lengthAdjust="spacingAndGlyphs" >10</text>
<line x1="769" y1="143.6" x2="774.5" y2="143.6" stroke="#00FF00" stroke-width="1.2" />
<line x1="1265.5" y1="143.6" x2="1271" y2="143.6" stroke="#00FF00" stroke-width="1.2" />
<text x="761.4" y="153.4" font-family='"Liberation Sans", sans-serif' font-size="24" font-weight="bold" fill="#00FF00" text-anchor="end" textLength="14" lengthAdjust="spacingAndGlyphs" >5</text>
<line x1="769" y1="167.5" x2="774.5" y2="167.5" stroke="#00FF00" stroke-width="1.2" />
<line x1="1265.5" y1="167.5" x2="1271" y2="167.5" stroke="#00FF00" stroke-width="1.2" />
<text x="761.4" y="177.3" font-family='"Liberation Sans", sans-serif' font-size="24" font-weight="bold" fill="#00FF00" text-anchor="end" textLength="14" lengthAdjust="spacingAndGlyphs" >0</text>
<line x1="769" y1="191.4" x2="774.5" y2="191.4" stroke="#00FF00" stroke-width="1.2" />
<line x1="1265.5" y1="191.4" x2="1271" y2="191.4" stroke="#00FF00" stroke-width="1.2" />
<text x="761.4" y="201.2" font-family='"Liberation Sans", sans-serif' font-size="24" font-weight="bold" fill="#00FF00" text-anchor="end" textLength="22.4" lengthAdjust="spacingAndGlyphs" >-5</text>
<line x1="769" y1="215.2" x2="774.5" y2="215.2" stroke="#00FF00" stroke-width="1.2" />
<line x1="1265.5" y1="215.2" x2="1271" y2="215.2" stroke="#00FF00" stroke-width="1.2" />
<text x="761.4" y="225.1" font-family='"Liberation Sans", sans-serif' font-size="24" font-weight="bold" fill="#00FF00" text-anchor="end" textLength="36.4" lengthAdjust="spacingAndGlyphs" >-10</text>
<line x1="769" y1="239.1" x2="774.5" y2="239.1" stroke="#00FF00" stroke-width="1.2" />
<line x1="1265.5" y1="239.1" x2="1271" y2="239.1" stroke="#00FF00" stroke-width="1.2" />
<text x="761.4" y="248.9" font-family='"Liberation Sans", sans-serif' font-size="24" font-weight="bold" fill="#00FF00" text-anchor="end" textLength="36.4" lengthAdjust="spacingAndGlyphs" >-15</text>
<line x1="769" y1="263" x2="774.5" y2="263" stroke="#00FF00" stroke-width="1.2" />
<line x1="1265.5" y1="263" x2="1271" y2="263" stroke="#00FF00" stroke-width="1.2" />
<text x="761.4" y="272.8" font-family='"Liberation Sans", sans-serif' font-size="24" font-weight="bold" fill="#00FF00" text-anchor="end" textLength="36.4" lengthAdjust="spacingAndGlyphs" >-20</text>
<line x1="1265.5" y1="72" x2="1271" y2="72" stroke="#0000FF" stroke-width="1.2" />
<text x="1276" y="82.1" font-family='"Liberation Sans", sans-serif' font-size="24" font-weight="bold" fill="#0000FF" textLength="28" lengthAdjust="spacingAndGlyphs" >30</text>
<line x1="1265.5" y1="103.8" x2="1271" y2="103.8" stroke="#0000FF" stroke-width="1.2" />
<text x="1276" y="113.9" font-family='"Liberation Sans", sans-serif' font-size="24" font-weight="bold" fill="#0000FF" textLength="28" lengthAdjust="spacingAndGlyphs" >20</text>
<line x1="1265.5" y1="135.7" x2="1271" y2="135.7" stroke="#0000FF" stroke-width="1.2" />
<text x="1276" y="145.8" font-family='"Liberation Sans", sans-serif' font-size="24" font-weight="bold" fill="#0000FF" textLength="28" lengthAdjust="spacingAndGlyphs" >10</text>
<line x1="1265.5" y1="167.5" x2="1271" y2="167.5" stroke="#0000FF" stroke-width="1.2" />
<text x="1276" y="177.6" font-family='"Liberation Sans", sans-serif' font-size="24" font-weight="bold" fill="#0000FF" textLength="14" lengthAdjust="spacingAndGlyphs" >0</text>
<line x1="1265.5" y1="199.3" x2="1271" y2="199.3" stroke="#0000FF" stroke-width="1.2" />
<text x="1276" y="209.4" font-family='"Liberation Sans", sans-serif' font-size="24" font-weight="bold" fill="#0000FF" textLength="36.4" lengthAdjust="spacingAndGlyphs" >-10</text>
<line x1="1265.5" y1="231.2" x2="1271" y2="231.2" stroke="#0000FF" stroke-width="1.2" />
<text x="1276" y="241.3" font-family='"Liberation Sans", sans-serif' font-size="24" font-weight="bold" fill="#0000FF" textLength="36.4" lengthAdjust="spacingAndGlyphs" >-20</text>
<line x1="1265.5" y1="263" x2="1271" y2="263" stroke="#0000FF" stroke-width="1.2" />
<text x="1276" y="273.1" font-family='"Liberation Sans", sans-serif' font-size="24" font-weight="bold" fill="#0000FF" textLength="36.4" lengthAdjust="spacingAndGlyphs" >-30</text>
<polyline points="112.5,336.1 116.5,336.5 120.8,342.4 124.7,355.3 128.7,363.2 133.6,359.8 137.6,369.1 140.5,366.1 143.5,368.1 146.9,379 151.4,374 155.3,376 160.7,385.5 164.2,380 169.2,373 173.7,368.5 178.1,371.1 183,373.4 190.9,369.5 195.8,362.2 199.8,361.2 204.7,357.3 209.6,355.3 215.6,350.3 221.5,345.8 225.4,344.4 230.4,340.1 235.3,338.5 239.8,333.6 243.2,335.5 247.2,343.4 252.1,349.4 256.6,357.3 261,351.7 265.9,359.2 271.8,365.2 273.9,368.1 278.9,378 282.8,375 286.8,378 291.7,381.9 297.2,388.8 301.6,378 305.5,377 310.5,374 315.4,374.6 324.3,373.4 332.2,372.7 336.1,367.1 341.1,364.2 346,359.2 350,356.3 353.9,350.9 357.9,350.3 361.8,347 367.7,343.8 372.7,342.4 376.6,345.4 380.2,343.8 384.1,362.2 388.5,359.2 392.4,357.6 396.4,360.2 401.3,364.2 406.2,364.2 411.2,371.1 416.1,371.1 420,367.1 424,371.1 430.3,379 434.9,375 438,370.1 444.9,376 449.8,371.1 454.7,368.1 460.7,370.1 464.6,368.1 468.6,360.2 474.5,355.7 481.4,351.9 485.3,347.4 493.2,341.4 498.2,336.5 503.1,332.6 507.6,327.2 511,331.6 515.9,342.4 520.8,349.9 524.8,349.3 529.7,348 535.7,361.2 538.6,364.1 542.6,359.2 547.1,373.4 551.4,368.7 556.4,376 561.3,374.6 565.3,373 569.2,378.9 573.2,374 578.1,368.1 582,370.1 587,359.2" fill="none" stroke="#000000" stroke-width="3.2" stroke-linejoin="round" stroke-linecap="butt" />
<polyline points="112.5,361.2 116.5,362.8 120.8,369.1 124.7,381 129.1,391.8 132.6,391.2 137.6,399.7 141.5,398.3 146.9,411.5 151.4,407.6 155.3,410.6 160.7,420.8 164.2,418.1 169.2,412.5 173.7,407.2 182,413.5 190.9,411.5 195.8,404.6 203.7,401.7 209.6,399.7 215.6,396.7 221.5,394.4 225.4,394.4 230.4,390.8 235.3,390.4 239.8,386.3 243.2,388.8 247.2,400.7 252.1,407.6 256.6,414.5 261,410 265.9,418.5 271.8,426.4 273.9,430.3 278.9,440.2 282.8,438.2 286.8,442.2 291.7,447.1 296.7,455 300.6,445.1 305.5,445.1 310.5,442.2 315.4,445.1 324.3,446.1 332.2,447.1 336.1,442.2 342.1,441.2 348,437.2 352.9,430.3 356.9,430.3 361.8,427.3 370.7,425.4 374.6,429.9 379.6,429.3 384.1,449.1 388.5,446.1 393.4,446.1 397.3,451 401.3,454 406.2,455 410.6,463.5 416.1,462.9 420,459.9 424,465.8 429.9,476.7 433.9,469.8 438,468.7 444.9,475.6 450.8,470.7 454.7,470.1 459.7,473.3 464.6,471.7 468.6,464.8 474.5,460.8 481.4,459.5 486.3,454.9 494.2,451 500.1,446.4 504.1,445.6 507.6,440.5 511,446 515.9,456.9 520.8,466.8 525.8,467.4 529.7,466.8 534.7,480.6 537.6,484.5 542.6,481.2 546.5,496.4 551.4,491.8 556.4,501.3 565.3,500.9 569.2,506.8 574.1,501.3 579.1,497.7 582.6,501.3 587,492.4" fill="none" stroke="#FF0000" stroke-width="3.2" stroke-linejoin="round" stroke-linecap="butt" />
<polyline points="112.5,385.3 587,491.8" fill="none" stroke="#00FF00" stroke-width="3.4" stroke-linejoin="round" stroke-linecap="butt" />
<path d="M108 307.5H610.4V520H108Z" fill="none" stroke="#262626" stroke-opacity="0.75" stroke-width="1.2"/>
<line x1="108" y1="360.5" x2="113.5" y2="360.5" stroke="#262626" stroke-width="1.2" />
<line x1="604.5" y1="360.5" x2="610" y2="360.5" stroke="#262626" stroke-width="1.2" />
<text x="100.4" y="370.3" font-family='"Liberation Sans", sans-serif' font-size="24" font-weight="bold" fill="#262626" text-anchor="end" textLength="14.1" lengthAdjust="spacingAndGlyphs" >0</text>
<line x1="108" y1="431.3" x2="113.5" y2="431.3" stroke="#262626" stroke-width="1.2" />
<line x1="604.5" y1="431.3" x2="610" y2="431.3" stroke="#262626" stroke-width="1.2" />
<text x="100.4" y="441.1" font-family='"Liberation Sans", sans-serif' font-size="24" font-weight="bold" fill="#262626" text-anchor="end" textLength="50.7" lengthAdjust="spacingAndGlyphs" >-200</text>
<line x1="108" y1="501.9" x2="113.5" y2="501.9" stroke="#262626" stroke-width="1.2" />
<line x1="604.5" y1="501.9" x2="610" y2="501.9" stroke="#262626" stroke-width="1.2" />
<text x="100.4" y="511.7" font-family='"Liberation Sans", sans-serif' font-size="24" font-weight="bold" fill="#262626" text-anchor="end" textLength="50.7" lengthAdjust="spacingAndGlyphs" >-400</text>
<text x="115.7" y="479.8" font-family='"Liberation Serif", serif' font-size="30" font-weight="normal" fill="#00000F" textLength="43" lengthAdjust="spacingAndGlyphs" stroke="#00000F" stroke-width="0.45">(A)</text>
<polyline points="112.2,556.1 116.3,559.9 120.1,556.1 124.8,555.6 129.5,570.3 133.3,569.3 138,579.7 142.4,574.4 146.5,580.7 151.2,581.6 155.6,576.3 160.7,585.4 169.2,587.3 173.9,580.7 177.6,581.2 182.4,585 187.1,583.5 191.8,578.8 195.6,573.7 199.3,573.1 204.1,569.9 207.8,571.2 212.5,567.5 216.3,568.4 222,563.1 225.8,565.6 230.5,560.3 235.2,557.1 239,543.9 243.7,542.9 248.4,551.4 253.1,553.3 256.9,568.4 260.7,561.8 265.4,563.7 271,571.2 276.6,585.4 282.8,600.8 287.9,602 292.6,602.7 296.4,619.3 300.6,598.6 304.9,592 309.6,589.5 314.3,583.9 320.9,580.7 326.6,577.8 332.3,575 336,573.1 340.8,575.6 345.5,570.3 349.2,568.8 354,564.6 357.7,563.7 362.5,559.3 370,552.4 375.7,556.7 379.4,554.8 385.1,559.9 388.9,558.6 393.6,551 398.3,558.6 403,563.7 406.8,571.2 410.6,572.5 415.3,575.9 419.1,591 423.8,586.3 427.5,592.5 431.3,594.4 436,587.6 437.8,586.3 442.2,590.1 446.3,583.5 450.1,573.7 454.8,576.3 458.6,571.8 463.3,569.9 468,565.6 476.5,561.2 481.2,562.7 485,557.1 489.7,555.2 494.4,549.5 499.2,547.6 503.9,543.5 511.4,539.7 516.1,548.6 520.8,552.9 525.6,550.5 530.3,549.5 534.1,569.9 537.8,574.4 542.5,565.6 547.3,588.2 552,579.7 555.8,600.8 560.5,594.8 565.2,590.7 569.3,601.4 573.7,587.3 578.4,583.1 582.5,585 586.9,580.7" fill="none" stroke="#000000" stroke-width="3.2" stroke-linejoin="round" stroke-linecap="butt" />
<polyline points="112.2,572.2 116.3,576.9 121,574.4 124.8,575.6 128.6,589.2 134.2,590.1 138,602 141.8,597.6 146.5,605.8 151.2,608 155.6,603.3 160.7,612.7 169.2,616.5 173.9,610.8 178.6,612.7 183.3,617.5 188,615.9 192.7,612.2 195.6,609.5 200.3,609.5 205,606.5 210.7,607.1 213.5,605.2 218.2,606.5 222,603.3 226.7,606.5 230.5,602 235.2,600.5 239.3,588.2 244.2,588.2 248.4,597.6 253.1,600.5 256.9,615.6 260.7,611.4 265.4,613.7 271,621.2 276.6,638.2 282.8,655.2 287.9,657.5 292.6,659.3 296.8,677.5 301.1,657.1 305.8,651 309.6,649.2 314.3,644.8 320.9,642.9 328.5,641 336,639.2 340.2,642.9 344.5,638.2 349.2,637.8 353,634.4 357.7,634.4 362.5,630.7 370.9,625.9 375.7,631.6 379.4,631 385.1,637.3 389.8,636.3 393.6,629.7 398.3,638.2 403,644.2 406.8,653.3 414.3,659 419.1,676.9 423.8,672.2 428.5,682.5 432.3,680.7 437,675.9 437.8,676 442.2,680.1 446.3,675 450.1,665.6 455.4,669.3 459.5,665.6 464.2,663.7 468,660.8 476.5,658.6 481.2,660.8 485,656.7 489.7,655.6 494.4,651 499.2,649.9 503.9,647.3 511.4,645.4 516.1,655.2 520.8,659.9 525.6,659.3 530.3,659.3 534.1,679.3 537.8,686.3 542.5,678.8 547.3,701.4 552,694.8 555.8,716.5 560.5,711.8 565.2,707.6 569.3,719.3 573.7,707.1 578.4,703.9 582.5,705.8 586.9,703.3" fill="none" stroke="#FF0000" stroke-width="3.2" stroke-linejoin="round" stroke-linecap="butt" />
<polyline points="112.2,587.6 586.9,693.9" fill="none" stroke="#00FF00" stroke-width="3.4" stroke-linejoin="round" stroke-linecap="butt" />
<path d="M108 532.8H610.4V732.5H108Z" fill="none" stroke="#262626" stroke-opacity="0.75" stroke-width="1.2"/>
<line x1="108" y1="571.4" x2="113.5" y2="571.4" stroke="#262626" stroke-width="1.2" />
<line x1="604.5" y1="571.4" x2="610" y2="571.4" stroke="#262626" stroke-width="1.2" />
<text x="100.4" y="581.2" font-family='"Liberation Sans", sans-serif' font-size="24" font-weight="bold" fill="#262626" text-anchor="end" textLength="14.1" lengthAdjust="spacingAndGlyphs" >0</text>
<line x1="108" y1="620.1" x2="113.5" y2="620.1" stroke="#262626" stroke-width="1.2" />
<line x1="604.5" y1="620.1" x2="610" y2="620.1" stroke="#262626" stroke-width="1.2" />
<text x="100.4" y="629.9" font-family='"Liberation Sans", sans-serif' font-size="24" font-weight="bold" fill="#262626" text-anchor="end" textLength="50.7" lengthAdjust="spacingAndGlyphs" >-100</text>
<line x1="108" y1="668.8" x2="113.5" y2="668.8" stroke="#262626" stroke-width="1.2" />
<line x1="604.5" y1="668.8" x2="610" y2="668.8" stroke="#262626" stroke-width="1.2" />
<text x="100.4" y="678.6" font-family='"Liberation Sans", sans-serif' font-size="24" font-weight="bold" fill="#262626" text-anchor="end" textLength="50.7" lengthAdjust="spacingAndGlyphs" >-200</text>
<line x1="108" y1="717.9" x2="113.5" y2="717.9" stroke="#262626" stroke-width="1.2" />
<line x1="604.5" y1="717.9" x2="610" y2="717.9" stroke="#262626" stroke-width="1.2" />
<text x="100.4" y="727.7" font-family='"Liberation Sans", sans-serif' font-size="24" font-weight="bold" fill="#262626" text-anchor="end" textLength="50.7" lengthAdjust="spacingAndGlyphs" >-300</text>
<text x="115.7" y="697.8" font-family='"Liberation Serif", serif' font-size="30" font-weight="normal" fill="#00000F" textLength="43.5" lengthAdjust="spacingAndGlyphs" stroke="#00000F" stroke-width="0.45">(C)</text>
<polyline points="112.4,768.2 116.7,767.6 123.5,767.6 128.4,773.1 134.2,766.8 138.1,770.1 142,770.1 146.3,783.2 151.7,774 155.6,776 161.5,781.2 168.3,781.8 178,782.4 181.9,785.7 186.8,779.9 191.7,780.5 195.6,776 202.4,773.4 208.2,770.7 215,766.8 221.8,764.3 227.7,763.3 233.5,759.4 239.4,756.5 248.1,757.5 253,765.3 256.9,767.2 260.8,763.3 265.7,769.5 270.5,770.7 278.8,777.9 283.6,779.3 289.5,786.7 296.3,795.4 301.2,789.6 306,792.1 309.9,789.6 314.4,782.8 320.6,781.8 331.3,781.2 336.2,777.9 341.1,778.5 348.9,775.4 353.7,769.5 360.6,767.2 366.4,764.3 371.3,761.4 376.1,762.3 380,760.4 384.9,770.1 389.8,767.2 393.7,766.2 397.6,768.8 402.4,766.8 407.3,771.1 415.1,774 420,769.2 428.1,792.9 432.6,795.4 437.5,786.3 437.9,785.7 441.8,789 446.7,784.8 454.5,780.5 459.4,781.2 468.1,777 474,772.1 480.8,770.7 485.7,768.8 490.5,767.6 494.4,762.9 499.3,759.8 504.2,757.5 508.1,753.6 512.9,756.5 516.8,763.3 520.7,764.9 524.6,761.4 529.5,758.5 533.4,763.3 537.3,769.2 542.1,766.8 547,775 551.9,778.9 559.7,785.7 564.6,779.9 569.4,785.7 574.3,786.3 578.2,777.9 582.1,777.9 587,773.1" fill="none" stroke="#000000" stroke-width="3.2" stroke-linejoin="round" stroke-linecap="butt" />
<polyline points="112.4,773.1 116.7,774 123.5,776.6 129.3,781.2 134.2,778.5 138.1,783.2 143,785.7 146.9,799.9 150.8,793.5 154.7,795.4 160.5,802.3 168.3,804.2 177.1,807.1 181.9,813 186.8,809.7 191.7,811.6 196.5,807.7 202.4,808.1 210.2,807.1 216,804.2 221.8,804.2 227.7,805.2 235.5,801.9 241.3,803.2 249.1,806.2 253,813.9 256.9,818.2 260.8,815.9 264.7,823.7 270.5,826.6 277.8,836.3 283.2,839.3 289.5,850 296.3,860.3 301.2,854.8 306,859.7 309.9,858.7 314.8,852.5 321.6,853.9 331.9,856.4 336.2,854.8 341.1,857.2 348.9,856.8 353.7,851.9 360.6,852.5 366.4,850.6 371.3,849 376.1,851.3 380,850.6 384.5,862.2 389.8,860.3 393.7,860.7 397.6,864.6 402.4,864.6 406.3,869.5 415.1,876.7 419.6,872 423.8,886 428.1,900.6 432.6,902.6 436.5,895.4 437.9,896.2 441.8,899.3 446.7,897.4 454.5,895.4 459.4,897.4 468.1,895.4 474.9,892.9 480.8,893.9 489.5,892.9 494.4,889.6 500.3,887.6 504.2,887 507.5,884.5 512,888.4 516.8,898.7 520.7,900.1 524.6,898.1 529.5,896.8 538.3,910.4 542.1,909.4 547,919.2 551.9,923.1 559.7,933.8 564.6,929.3 569.4,936.7 573.3,938.7 577.2,932.4 581.1,932.4 587,929.9" fill="none" stroke="#FF0000" stroke-width="3.2" stroke-linejoin="round" stroke-linecap="butt" />
<polyline points="112.4,778.5 587,929.9" fill="none" stroke="#00FF00" stroke-width="3.4" stroke-linejoin="round" stroke-linecap="butt" />
<path d="M108 744.8H610.4V953.5H108Z" fill="none" stroke="#262626" stroke-opacity="0.75" stroke-width="1.2"/>
<line x1="108" y1="773.4" x2="113.5" y2="773.4" stroke="#262626" stroke-width="1.2" />
<line x1="604.5" y1="773.4" x2="610" y2="773.4" stroke="#262626" stroke-width="1.2" />
<text x="100.4" y="783.2" font-family='"Liberation Sans", sans-serif' font-size="24" font-weight="bold" fill="#262626" text-anchor="end" textLength="14.1" lengthAdjust="spacingAndGlyphs" >0</text>
<line x1="108" y1="845.3" x2="113.5" y2="845.3" stroke="#262626" stroke-width="1.2" />
<line x1="604.5" y1="845.3" x2="610" y2="845.3" stroke="#262626" stroke-width="1.2" />
<text x="100.4" y="855.1" font-family='"Liberation Sans", sans-serif' font-size="24" font-weight="bold" fill="#262626" text-anchor="end" textLength="50.7" lengthAdjust="spacingAndGlyphs" >-200</text>
<line x1="108" y1="917.2" x2="113.5" y2="917.2" stroke="#262626" stroke-width="1.2" />
<line x1="604.5" y1="917.2" x2="610" y2="917.2" stroke="#262626" stroke-width="1.2" />
<text x="100.4" y="927" font-family='"Liberation Sans", sans-serif' font-size="24" font-weight="bold" fill="#262626" text-anchor="end" textLength="50.7" lengthAdjust="spacingAndGlyphs" >-400</text>
<line x1="108" y1="744.8" x2="108" y2="750.3" stroke="#262626" stroke-width="1.2" />
<line x1="108" y1="947.7" x2="108" y2="953.2" stroke="#262626" stroke-width="1.2" />
<line x1="141.3" y1="744.8" x2="141.3" y2="750.3" stroke="#262626" stroke-width="1.2" />
<line x1="141.3" y1="947.7" x2="141.3" y2="953.2" stroke="#262626" stroke-width="1.2" />
<line x1="175" y1="744.8" x2="175" y2="750.3" stroke="#262626" stroke-width="1.2" />
<line x1="175" y1="947.7" x2="175" y2="953.2" stroke="#262626" stroke-width="1.2" />
<line x1="208.7" y1="744.8" x2="208.7" y2="750.3" stroke="#262626" stroke-width="1.2" />
<line x1="208.7" y1="947.7" x2="208.7" y2="953.2" stroke="#262626" stroke-width="1.2" />
<line x1="241.6" y1="744.8" x2="241.6" y2="750.3" stroke="#262626" stroke-width="1.2" />
<line x1="241.6" y1="947.7" x2="241.6" y2="953.2" stroke="#262626" stroke-width="1.2" />
<line x1="275" y1="744.8" x2="275" y2="750.3" stroke="#262626" stroke-width="1.2" />
<line x1="275" y1="947.7" x2="275" y2="953.2" stroke="#262626" stroke-width="1.2" />
<line x1="308.7" y1="744.8" x2="308.7" y2="750.3" stroke="#262626" stroke-width="1.2" />
<line x1="308.7" y1="947.7" x2="308.7" y2="953.2" stroke="#262626" stroke-width="1.2" />
<line x1="342.3" y1="744.8" x2="342.3" y2="750.3" stroke="#262626" stroke-width="1.2" />
<line x1="342.3" y1="947.7" x2="342.3" y2="953.2" stroke="#262626" stroke-width="1.2" />
<line x1="375.3" y1="744.8" x2="375.3" y2="750.3" stroke="#262626" stroke-width="1.2" />
<line x1="375.3" y1="947.7" x2="375.3" y2="953.2" stroke="#262626" stroke-width="1.2" />
<line x1="408.6" y1="744.8" x2="408.6" y2="750.3" stroke="#262626" stroke-width="1.2" />
<line x1="408.6" y1="947.7" x2="408.6" y2="953.2" stroke="#262626" stroke-width="1.2" />
<line x1="442.3" y1="744.8" x2="442.3" y2="750.3" stroke="#262626" stroke-width="1.2" />
<line x1="442.3" y1="947.7" x2="442.3" y2="953.2" stroke="#262626" stroke-width="1.2" />
<line x1="476" y1="744.8" x2="476" y2="750.3" stroke="#262626" stroke-width="1.2" />
<line x1="476" y1="947.7" x2="476" y2="953.2" stroke="#262626" stroke-width="1.2" />
<line x1="509.3" y1="744.8" x2="509.3" y2="750.3" stroke="#262626" stroke-width="1.2" />
<line x1="509.3" y1="947.7" x2="509.3" y2="953.2" stroke="#262626" stroke-width="1.2" />
<line x1="542.6" y1="744.8" x2="542.6" y2="750.3" stroke="#262626" stroke-width="1.2" />
<line x1="542.6" y1="947.7" x2="542.6" y2="953.2" stroke="#262626" stroke-width="1.2" />
<line x1="576.3" y1="744.8" x2="576.3" y2="750.3" stroke="#262626" stroke-width="1.2" />
<line x1="576.3" y1="947.7" x2="576.3" y2="953.2" stroke="#262626" stroke-width="1.2" />
<line x1="610" y1="744.8" x2="610" y2="750.3" stroke="#262626" stroke-width="1.2" />
<line x1="610" y1="947.7" x2="610" y2="953.2" stroke="#262626" stroke-width="1.2" />
<text x="115.7" y="937.4" font-family='"Liberation Serif", serif' font-size="30" font-weight="normal" fill="#00000F" textLength="39.5" lengthAdjust="spacingAndGlyphs" stroke="#00000F" stroke-width="0.45">(E)</text>
<polyline points="772.7,334.3 777.1,337.3 782.1,339.9 785.2,351.4 789.6,368.6 794.8,367.6 798.3,381.7 803.3,373 808.4,381.1 813.4,384.7 817.8,386.3 821.1,398.8 825.5,396.8 829.9,394.4 834.6,380.7 838.6,380.3 842.6,380.3 846.7,377.6 851.7,369.6 856.8,362.9 859.8,363.5 864.8,357.5 868.9,360.1 873.9,353.4 877.9,352.8 882,345.4 886,347.4 891,341.9 895.1,338.7 899.7,325.2 904.1,321.2 906.2,323.8 909.2,332.3 913.8,331.3 917.9,345.4 922.3,330.2 926.3,336.3 931.4,344 934,358.5 939.1,379.7 943.1,378.2 947.1,384.7 952.2,393.2 957.8,410.9 961.9,396.4 966.3,382.7 970.3,380.3 975.4,375.6 982.4,373 991.5,369 996.5,363.5 1001,366.1 1005.6,360.1 1010.7,355.5 1014.7,348.8 1018.7,348 1023.8,341.3 1031.8,336.7 1035.9,341.3 1040.9,338.7 1045.3,348 1050,343.4 1054,331.3 1059.1,342.3 1063.1,347.4 1068.1,354.4 1072.2,364.1 1076.2,369.6 1080.2,382.7 1085.3,386.3 1089.3,391.8 1093.3,396.4 1097.4,382.7 1103.1,381.7 1107.1,373.6 1112.1,363.5 1116.2,362.5 1120.2,360.1 1124.9,362.9 1128.9,355.5 1133.3,354.1 1138.4,349.4 1142.4,349.4 1146.4,342.4 1151.5,337.9 1155.5,331.9 1160.6,332.7 1164.6,329.9 1168.6,326.2 1173.7,327.2 1177.7,337.3 1181.7,347.4 1186.8,334.3 1191.8,334.3 1195.9,360.1 1199.5,367.6 1203.9,360.5 1208,393.8 1212.4,383.1 1217,397.8 1222.1,398.4 1226.1,393.2 1230.6,401.9 1235.2,382.7 1239.2,375 1243.9,375.6 1248.3,360.1" fill="none" stroke="#000000" stroke-width="3.2" stroke-linejoin="round" stroke-linecap="butt" />
<polyline points="772.7,361.5 777.1,365.5 781.5,368.6 785.2,381.7 789.6,398.8 794.8,399.2 798.9,414.5 803.3,406.5 807.8,415.3 813.4,420 817.8,422 821.1,437.1 825.5,435.1 829.9,432.7 834.6,420.6 841.6,421 846.7,419 851.7,412.5 856.8,406.9 860.8,407.9 865.8,402.8 869.9,404.5 873.9,399.8 877.9,399.2 882,393.2 886,396.4 891,391.8 895.7,388.7 900.1,377.6 904.1,374.2 907.8,385.7 913.8,386.7 917.9,401.8 922.3,386.7 926.3,392.8 931.4,402.4 934,414.9 939.1,439.1 944.1,440.1 948.1,447.2 952.6,455.3 957.8,475.8 961.9,461.3 966.3,448.8 970.3,447.2 975.4,442.8 982.4,441.2 992.5,438.7 997.6,434.7 1001.6,438.1 1006.6,432.1 1011.7,427.4 1014.7,423.4 1018.7,423.4 1023.8,418 1031.8,415.3 1035.9,421 1040.9,419 1045.3,429.1 1050,425 1054,412.9 1059.1,425 1063.1,432.1 1068.1,439.5 1072.2,449.2 1076.2,455.3 1080.2,471.4 1085.3,476.4 1089.3,482.5 1093.3,486.5 1097.4,474.4 1103.1,475.5 1107.1,467.8 1112.1,457.4 1116.2,457.4 1120.2,456.3 1124.9,459 1129.3,451.7 1133.3,451.7 1138.4,448.9 1142.4,449.7 1146.4,443.2 1151.5,440.2 1155.5,434.8 1160.6,437.2 1164.6,434.8 1168.6,429.1 1172.7,431.1 1177.3,443.6 1181.7,455.3 1186.8,442.8 1191.4,443.2 1195.9,471.5 1199.5,478.5 1203.9,475.5 1208,505.8 1212.4,497.3 1217,511.8 1222.1,512.8 1226.1,509.8 1229.8,519.9 1235.2,501.7 1239.2,494.7 1243.9,495.7 1248.3,481.2" fill="none" stroke="#FF0000" stroke-width="3.2" stroke-linejoin="round" stroke-linecap="butt" />
<polyline points="772.7,388.7 1248.3,482" fill="none" stroke="#00FF00" stroke-width="3.4" stroke-linejoin="round" stroke-linecap="butt" />
<path d="M768.8 313.6H1271.6V521.5H768.8Z" fill="none" stroke="#262626" stroke-opacity="0.75" stroke-width="1.2"/>
<line x1="769" y1="360.9" x2="774.5" y2="360.9" stroke="#262626" stroke-width="1.2" />
<line x1="1265.5" y1="360.9" x2="1271" y2="360.9" stroke="#262626" stroke-width="1.2" />
<text x="761.4" y="370.7" font-family='"Liberation Sans", sans-serif' font-size="24" font-weight="bold" fill="#262626" text-anchor="end" textLength="14.1" lengthAdjust="spacingAndGlyphs" >0</text>
<line x1="769" y1="414.5" x2="774.5" y2="414.5" stroke="#262626" stroke-width="1.2" />
<line x1="1265.5" y1="414.5" x2="1271" y2="414.5" stroke="#262626" stroke-width="1.2" />
<text x="761.4" y="424.3" font-family='"Liberation Sans", sans-serif' font-size="24" font-weight="bold" fill="#262626" text-anchor="end" textLength="50.7" lengthAdjust="spacingAndGlyphs" >-100</text>
<line x1="769" y1="467.7" x2="774.5" y2="467.7" stroke="#262626" stroke-width="1.2" />
<line x1="1265.5" y1="467.7" x2="1271" y2="467.7" stroke="#262626" stroke-width="1.2" />
<text x="761.4" y="477.5" font-family='"Liberation Sans", sans-serif' font-size="24" font-weight="bold" fill="#262626" text-anchor="end" textLength="50.7" lengthAdjust="spacingAndGlyphs" >-200</text>
<line x1="769" y1="521.4" x2="774.5" y2="521.4" stroke="#262626" stroke-width="1.2" />
<line x1="1265.5" y1="521.4" x2="1271" y2="521.4" stroke="#262626" stroke-width="1.2" />
<text x="761.4" y="531.2" font-family='"Liberation Sans", sans-serif' font-size="24" font-weight="bold" fill="#262626" text-anchor="end" textLength="50.7" lengthAdjust="spacingAndGlyphs" >-300</text>
<text x="771.8" y="480" font-family='"Liberation Serif", serif' font-size="30" font-weight="normal" fill="#00000F" textLength="39.4" lengthAdjust="spacingAndGlyphs" stroke="#00000F" stroke-width="0.45">(B)</text>
<polyline points="773.5,548.6 777.3,548 781,559.9 785.8,559.3 789.5,575.9 794.2,584.4 799,595.8 803.7,594.8 808.4,597.6 812.2,611.8 815.9,608 820.7,632.5 827.3,625 832.9,617.5 838.6,609.9 843.3,614.6 848,605.2 852.7,602.4 857.5,595.8 863.1,592 866.9,589.2 869.7,589.2 874.4,579.7 879.2,575 883.9,572.2 887.6,571.8 892.4,568 897.1,562.7 900.8,557.1 904.6,554.2 908.4,565.6 913.1,570.3 918.8,565.6 922.5,566.9 927.3,572.2 931,581.6 934.7,589.2 939.4,605.2 944.2,609 948.9,619 957.9,635.4 962.1,617.5 966.8,605.2 970.6,603.3 975.3,591 980,588.8 986.6,586.3 992.3,583.9 997,575.6 1001.7,578.8 1005.5,573.1 1011.1,570.7 1014.9,562.7 1024.3,554.8 1031.9,553.3 1036.6,555.6 1040.9,549.5 1045.1,568.8 1049.8,560.5 1054.5,561.8 1059.2,565.6 1063,579.7 1066.8,581.6 1071.5,588.2 1076.2,595.8 1080.9,591.4 1085.1,609 1089.4,625.9 1093.8,626.9 1097.5,606.1 1102.5,608.9 1106.3,599.5 1111,590.1 1115.7,586.9 1119.5,575.9 1124.2,580.6 1128.9,577.8 1133.7,575 1137.4,568 1143.1,570.6 1146.9,567.4 1151.6,564.6 1155.3,559.3 1160.1,553.7 1164.8,549.1 1169.5,543.9 1173.3,545.7 1177,562.3 1181.7,565.5 1186.5,559.9 1191.2,560.8 1195.9,573.1 1199.7,581.6 1204,583.1 1208.1,598.9 1212.9,608.9 1216.6,628.7 1221,637.2 1226.1,624 1230.4,633.4 1235.5,615.5 1239.3,603.3 1244,603.3 1248.1,589.5" fill="none" stroke="#000000" stroke-width="3.2" stroke-linejoin="round" stroke-linecap="butt" />
<polyline points="773.5,583.1 777.3,582.5 781,595.8 785.8,595.2 790.5,615.6 795.2,625 799,634.4 804.6,634.1 809.3,638.2 812.2,652.4 815.9,649.2 820.7,675 827.3,667.5 832.9,659.9 839.5,653.3 843.3,659.3 848,649.9 852.7,648.6 857.5,641.6 863.1,638.6 867.8,636.3 870.7,637.3 874.4,626.9 879.2,624.1 883.9,621.6 888.6,621.6 894.2,617.1 899,610.3 903.7,607.1 908.4,619.3 913.1,624.1 918.8,621.2 923.5,621.6 928.2,627.8 932,636.3 934.7,645.8 939.4,663.7 944.2,666.5 948.9,677.5 957.9,696.7 962.1,681.6 966.8,666.5 970.6,665 975.3,654.2 980.9,652.4 988.5,650.5 993.2,649.5 997,642.9 1001.7,644.8 1006.4,639.7 1011.1,638.6 1014.9,631 1024.3,624.1 1032.8,624.6 1036.6,626.9 1040.9,621.6 1045.1,641.6 1049.8,633.5 1054.5,635.4 1059.2,639.2 1063,655.2 1066.8,657.1 1071.5,664.6 1076.2,672.2 1080.9,668.4 1085.1,685.4 1089.4,705.2 1093.8,706.5 1097.5,686.3 1102.5,689.1 1106.3,681.5 1111,673 1115.7,669.8 1119.5,659.3 1124.2,663.6 1128.9,660.8 1133.7,658.9 1137.4,653.2 1143.1,656.6 1146.9,654.2 1151.6,651.7 1155.3,647.6 1160.1,642.3 1164.8,638.5 1169.5,634 1173.3,636.3 1177,653.2 1181.7,657 1186.5,651.7 1191.2,653.2 1195.9,665.5 1199.7,675.9 1204,676.8 1208.1,693.8 1212.9,705.1 1216.6,725.3 1221,734.3 1226.1,722.1 1230.4,732.4 1235.5,717.3 1239.3,703.2 1244,703.8 1248.1,690" fill="none" stroke="#FF0000" stroke-width="3.2" stroke-linejoin="round" stroke-linecap="butt" />
<polyline points="773.5,619.7 1247.4,685.7" fill="none" stroke="#00FF00" stroke-width="3.4" stroke-linejoin="round" stroke-linecap="butt" />
<path d="M768.8 532.5H1271.6V734.8H768.8Z" fill="none" stroke="#262626" stroke-opacity="0.75" stroke-width="1.2"/>
<line x1="769" y1="585" x2="774.5" y2="585" stroke="#262626" stroke-width="1.2" />
<line x1="1265.5" y1="585" x2="1271" y2="585" stroke="#262626" stroke-width="1.2" />
<text x="761.4" y="594.8" font-family='"Liberation Sans", sans-serif' font-size="24" font-weight="bold" fill="#262626" text-anchor="end" textLength="14.1" lengthAdjust="spacingAndGlyphs" >0</text>
<line x1="769" y1="659.9" x2="774.5" y2="659.9" stroke="#262626" stroke-width="1.2" />
<line x1="1265.5" y1="659.9" x2="1271" y2="659.9" stroke="#262626" stroke-width="1.2" />
<text x="761.4" y="669.7" font-family='"Liberation Sans", sans-serif' font-size="24" font-weight="bold" fill="#262626" text-anchor="end" textLength="50.7" lengthAdjust="spacingAndGlyphs" >-100</text>
<line x1="769" y1="734.8" x2="774.5" y2="734.8" stroke="#262626" stroke-width="1.2" />
<line x1="1265.5" y1="734.8" x2="1271" y2="734.8" stroke="#262626" stroke-width="1.2" />
<text x="761.4" y="744.6" font-family='"Liberation Sans", sans-serif' font-size="24" font-weight="bold" fill="#262626" text-anchor="end" textLength="50.7" lengthAdjust="spacingAndGlyphs" >-200</text>
<text x="773.6" y="706.6" font-family='"Liberation Serif", serif' font-size="30" font-weight="normal" fill="#00000F" textLength="44.4" lengthAdjust="spacingAndGlyphs" stroke="#00000F" stroke-width="0.45">(D)</text>
<polyline points="772.7,781.5 777.5,770.9 782.4,777.6 786.2,801.8 790.1,804.6 794.9,811.4 799.7,818.2 804.2,819.5 807.8,868.3 812.9,842.3 817.1,855.8 821,875.1 824.8,874.1 830.6,843.8 835.4,839.4 840.3,830.7 844.1,827.8 848,813.3 852.2,823.9 856.7,807.5 861.5,805.6 866.3,801.8 870.2,799.8 875,793.1 878.9,791.1 882.7,782.5 886.6,782.5 891.4,777.6 896.2,777.1 901,773.8 904.9,758.3 909.7,762.8 913.6,792.1 918.4,805.6 923.2,778.6 928.1,780.5 933.9,821 939.6,856.8 944.5,855.8 953.2,849.6 958,874.1 961.8,838 966.7,857.7 970.9,836.5 975.3,813.3 981.1,809.5 991.8,802.7 996.6,796 1001.4,795 1006.2,790.6 1010.1,790.6 1014.9,775.7 1019.2,780.5 1024.6,770.5 1031.9,758.3 1037.1,760.3 1041,756.4 1045.8,801.8 1049.6,788.2 1054.5,781.5 1058.9,768.9 1063.2,773.8 1068,791.7 1072.8,804.1 1077,811.4 1080.5,807.2 1085.3,845.8 1090.2,865 1094.4,861.6 1098.9,842.3 1102.7,841.3 1107.5,815.2 1111.4,819.1 1116.2,802.1 1120.1,803.7 1124.9,809.8 1129.7,803.3 1134.5,798.3 1138.4,792.5 1142.3,792.1 1147.1,782.1 1150.9,780.5 1158.7,773.8 1163.5,775.1 1168.3,757.4 1173.1,763.1 1177.6,778.2 1181.8,780.1 1186.1,784.8 1190.5,766 1195.3,786.3 1199.2,817.2 1204,809.4 1207.8,853.8 1211.7,853.8 1216.5,874.1 1221.4,853.8 1226.2,847.1 1230,869.6 1234.9,852.8 1239.3,821 1243.5,819.1 1247.8,809.4" fill="none" stroke="#000000" stroke-width="3.2" stroke-linejoin="round" stroke-linecap="butt" />
<polyline points="772.7,807.5 777.5,796.9 782.4,804.6 786.2,828.8 791.1,831.7 794.9,836.5 799.7,846.1 804.2,848.5 807.8,898.2 812.9,871.2 817.1,881.8 821.3,905 825.8,892.5 830.6,874.1 835.4,871.2 840.3,864.5 844.1,861.2 848.4,846.1 852.8,857.7 857.2,842.3 861.5,840.3 866.3,837.5 870.2,835.5 875,828.8 878.9,827.8 882.7,819.1 887,819.5 891.4,815.3 896.2,815.3 901,811.8 904.9,796.9 909.7,801.8 913.6,833.6 917.8,845.2 923.2,819.1 928.1,821 934.8,868.3 939.6,900.2 943.5,900.2 953.2,893.4 958,918.5 961.8,882.8 966.3,903.6 970.9,882.8 975.3,858.7 981.1,855.8 991.8,851 996.6,845.2 1001.4,845.2 1006.2,840.3 1010.1,840.3 1014.9,825.9 1019.2,832.6 1024.6,823 1031.9,811.4 1037.1,814.3 1041,809.1 1045.8,856.8 1049.6,843.2 1054.5,835.5 1058.9,823.9 1063.2,828.4 1068,850 1072.8,862 1077,869.3 1080.9,867 1085.3,905 1089.8,923.3 1094.4,922.4 1098.9,901.1 1102.7,902 1107,876 1111.4,881.2 1115.8,863.5 1120.1,865 1124.9,873.1 1129.7,866.4 1134.5,862.5 1138.4,856.7 1142.3,856.7 1146.7,847.1 1150.9,845.7 1159.6,839.3 1163.5,842.2 1168.7,824.5 1172.2,829.7 1177.6,846.1 1181.8,849.6 1186.1,854.2 1190.5,835.5 1195.3,855.7 1199.2,888.5 1204,881.8 1207.8,925.6 1211.7,925.2 1216.9,947.4 1221.4,928.1 1226.2,921.3 1231,943.5 1234.9,927.1 1239.3,895.3 1243.5,894.3 1247.8,885.6" fill="none" stroke="#FF0000" stroke-width="3.2" stroke-linejoin="round" stroke-linecap="butt" />
<polyline points="772.7,833 1247.4,883.1" fill="none" stroke="#00FF00" stroke-width="3.4" stroke-linejoin="round" stroke-linecap="butt" />
<path d="M768.8 747.1H1271.6V953.5H768.8Z" fill="none" stroke="#262626" stroke-opacity="0.75" stroke-width="1.2"/>
<line x1="769" y1="747.1" x2="774.5" y2="747.1" stroke="#262626" stroke-width="1.2" />
<line x1="1265.5" y1="747.1" x2="1271" y2="747.1" stroke="#262626" stroke-width="1.2" />
<text x="761.4" y="756.9" font-family='"Liberation Sans", sans-serif' font-size="24" font-weight="bold" fill="#262626" text-anchor="end" textLength="28.2" lengthAdjust="spacingAndGlyphs" >50</text>
<line x1="769" y1="807.6" x2="774.5" y2="807.6" stroke="#262626" stroke-width="1.2" />
<line x1="1265.5" y1="807.6" x2="1271" y2="807.6" stroke="#262626" stroke-width="1.2" />
<text x="761.4" y="817.4" font-family='"Liberation Sans", sans-serif' font-size="24" font-weight="bold" fill="#262626" text-anchor="end" textLength="14.1" lengthAdjust="spacingAndGlyphs" >0</text>
<line x1="769" y1="868.3" x2="774.5" y2="868.3" stroke="#262626" stroke-width="1.2" />
<line x1="1265.5" y1="868.3" x2="1271" y2="868.3" stroke="#262626" stroke-width="1.2" />
<text x="761.4" y="878.1" font-family='"Liberation Sans", sans-serif' font-size="24" font-weight="bold" fill="#262626" text-anchor="end" textLength="36.6" lengthAdjust="spacingAndGlyphs" >-50</text>
<line x1="769" y1="929.5" x2="774.5" y2="929.5" stroke="#262626" stroke-width="1.2" />
<line x1="1265.5" y1="929.5" x2="1271" y2="929.5" stroke="#262626" stroke-width="1.2" />
<text x="761.4" y="939.3" font-family='"Liberation Sans", sans-serif' font-size="24" font-weight="bold" fill="#262626" text-anchor="end" textLength="50.7" lengthAdjust="spacingAndGlyphs" >-100</text>
<line x1="769" y1="747.1" x2="769" y2="752.6" stroke="#262626" stroke-width="1.2" />
<line x1="769" y1="947.7" x2="769" y2="953.2" stroke="#262626" stroke-width="1.2" />
<line x1="802.3" y1="747.1" x2="802.3" y2="752.6" stroke="#262626" stroke-width="1.2" />
<line x1="802.3" y1="947.7" x2="802.3" y2="953.2" stroke="#262626" stroke-width="1.2" />
<line x1="836" y1="747.1" x2="836" y2="752.6" stroke="#262626" stroke-width="1.2" />
<line x1="836" y1="947.7" x2="836" y2="953.2" stroke="#262626" stroke-width="1.2" />
<line x1="869.7" y1="747.1" x2="869.7" y2="752.6" stroke="#262626" stroke-width="1.2" />
<line x1="869.7" y1="947.7" x2="869.7" y2="953.2" stroke="#262626" stroke-width="1.2" />
<line x1="902.6" y1="747.1" x2="902.6" y2="752.6" stroke="#262626" stroke-width="1.2" />
<line x1="902.6" y1="947.7" x2="902.6" y2="953.2" stroke="#262626" stroke-width="1.2" />
<line x1="936" y1="747.1" x2="936" y2="752.6" stroke="#262626" stroke-width="1.2" />
<line x1="936" y1="947.7" x2="936" y2="953.2" stroke="#262626" stroke-width="1.2" />
<line x1="969.7" y1="747.1" x2="969.7" y2="752.6" stroke="#262626" stroke-width="1.2" />
<line x1="969.7" y1="947.7" x2="969.7" y2="953.2" stroke="#262626" stroke-width="1.2" />
<line x1="1003.3" y1="747.1" x2="1003.3" y2="752.6" stroke="#262626" stroke-width="1.2" />
<line x1="1003.3" y1="947.7" x2="1003.3" y2="953.2" stroke="#262626" stroke-width="1.2" />
<line x1="1036.3" y1="747.1" x2="1036.3" y2="752.6" stroke="#262626" stroke-width="1.2" />
<line x1="1036.3" y1="947.7" x2="1036.3" y2="953.2" stroke="#262626" stroke-width="1.2" />
<line x1="1069.6" y1="747.1" x2="1069.6" y2="752.6" stroke="#262626" stroke-width="1.2" />
<line x1="1069.6" y1="947.7" x2="1069.6" y2="953.2" stroke="#262626" stroke-width="1.2" />
<line x1="1103.3" y1="747.1" x2="1103.3" y2="752.6" stroke="#262626" stroke-width="1.2" />
<line x1="1103.3" y1="947.7" x2="1103.3" y2="953.2" stroke="#262626" stroke-width="1.2" />
<line x1="1137" y1="747.1" x2="1137" y2="752.6" stroke="#262626" stroke-width="1.2" />
<line x1="1137" y1="947.7" x2="1137" y2="953.2" stroke="#262626" stroke-width="1.2" />
<line x1="1170.3" y1="747.1" x2="1170.3" y2="752.6" stroke="#262626" stroke-width="1.2" />
<line x1="1170.3" y1="947.7" x2="1170.3" y2="953.2" stroke="#262626" stroke-width="1.2" />
<line x1="1203.6" y1="747.1" x2="1203.6" y2="752.6" stroke="#262626" stroke-width="1.2" />
<line x1="1203.6" y1="947.7" x2="1203.6" y2="953.2" stroke="#262626" stroke-width="1.2" />
<line x1="1237.3" y1="747.1" x2="1237.3" y2="752.6" stroke="#262626" stroke-width="1.2" />
<line x1="1237.3" y1="947.7" x2="1237.3" y2="953.2" stroke="#262626" stroke-width="1.2" />
<line x1="1271" y1="747.1" x2="1271" y2="752.6" stroke="#262626" stroke-width="1.2" />
<line x1="1271" y1="947.7" x2="1271" y2="953.2" stroke="#262626" stroke-width="1.2" />
<text x="775.9" y="937.5" font-family='"Liberation Serif", serif' font-size="30" font-weight="normal" fill="#00000F" textLength="38.2" lengthAdjust="spacingAndGlyphs" stroke="#00000F" stroke-width="0.45">(F)</text>
<rect x="330.2" y="19" width="276.3" height="49.2" fill="#fff" stroke="#4a4a4a" stroke-width="1.3"/>
<line x1="342.6" y1="32.6" x2="405.3" y2="32.6" stroke="#00FF00" stroke-width="3.4" />
<line x1="342.6" y1="54.7" x2="405.3" y2="54.7" stroke="#0000FF" stroke-width="3.4" />
<text x="411.6" y="40.5" font-family='"Liberation Sans", sans-serif' font-size="19" font-weight="bold" fill="#000" textLength="133.5" lengthAdjust="spacingAndGlyphs" >Rainfall(mm)</text>
<text x="413.6" y="62.5" font-family='"Liberation Sans", sans-serif' font-size="19" font-weight="bold" fill="#000" textLength="135.6" lengthAdjust="spacingAndGlyphs" >Temperature(</text>
<circle cx="553.9" cy="51" r="2.2" fill="none" stroke="#000" stroke-width="1.2"/>
<text x="561.1" y="62.5" font-family='"Liberation Sans", sans-serif' font-size="19" font-weight="bold" fill="#000" textLength="20.2" lengthAdjust="spacingAndGlyphs" >C)</text>
<rect x="988.3" y="16.8" width="281.6" height="50.7" fill="#fff" stroke="#4a4a4a" stroke-width="1.3"/>
<line x1="1000.8" y1="31.9" x2="1064.1" y2="31.9" stroke="#00FF00" stroke-width="1.6" />
<line x1="1000.8" y1="53.3" x2="1064.1" y2="53.3" stroke="#0000FF" stroke-width="3.4" />
<text x="1071" y="38.9" font-family='"Liberation Sans", sans-serif' font-size="19" font-weight="bold" fill="#000" textLength="133.5" lengthAdjust="spacingAndGlyphs" >Rainfall(mm)</text>
<text x="1073" y="60.8" font-family='"Liberation Sans", sans-serif' font-size="19" font-weight="bold" fill="#000" textLength="135.6" lengthAdjust="spacingAndGlyphs" >Temperature(</text>
<circle cx="1213.3" cy="49.3" r="2.2" fill="none" stroke="#000" stroke-width="1.2"/>
<text x="1220.5" y="60.8" font-family='"Liberation Sans", sans-serif' font-size="19" font-weight="bold" fill="#000" textLength="20.2" lengthAdjust="spacingAndGlyphs" >C)</text>
<line x1="164.5" y1="72" x2="164.5" y2="953.4" stroke="#00000F" stroke-width="3.4" stroke-dasharray="21.2 22.9" stroke-dashoffset="11.3"/>
<line x1="243.7" y1="72" x2="243.7" y2="953.4" stroke="#22D800" stroke-width="3.4" stroke-dasharray="21.2 22.9" stroke-dashoffset="11.3"/>
<line x1="298.1" y1="72" x2="298.1" y2="953.4" stroke="#00000F" stroke-width="3.4" stroke-dasharray="21.2 22.9" stroke-dashoffset="11.3"/>
<line x1="372.6" y1="72" x2="372.6" y2="955.3" stroke="#22D800" stroke-width="3.4" stroke-dasharray="21.2 22.9" stroke-dashoffset="9.8"/>
<line x1="430.4" y1="72" x2="430.4" y2="953.4" stroke="#00000F" stroke-width="3.4" stroke-dasharray="21.2 22.9" stroke-dashoffset="11.3"/>
<line x1="511.1" y1="67.6" x2="511.1" y2="950.5" stroke="#22D800" stroke-width="3.4" stroke-dasharray="21.2 22.9" stroke-dashoffset="10.4"/>
<line x1="565.5" y1="72" x2="565.5" y2="953.4" stroke="#00000F" stroke-width="3.4" stroke-dasharray="21.2 22.9" stroke-dashoffset="11.3"/>
<line x1="824.1" y1="72" x2="824.1" y2="953.4" stroke="#00000F" stroke-width="3.4" stroke-dasharray="21.2 22.9" stroke-dashoffset="11.3"/>
<line x1="907.8" y1="72" x2="907.8" y2="953.4" stroke="#22D800" stroke-width="3.4" stroke-dasharray="21.2 22.9" stroke-dashoffset="13.1"/>
<line x1="958.1" y1="72" x2="958.1" y2="953.4" stroke="#00000F" stroke-width="3.4" stroke-dasharray="21.2 22.9" stroke-dashoffset="10.6"/>
<line x1="1041" y1="72" x2="1041" y2="953.4" stroke="#22D800" stroke-width="3.4" stroke-dasharray="21.2 22.9" stroke-dashoffset="13.1"/>
<line x1="1090.9" y1="72" x2="1090.9" y2="953.4" stroke="#00000F" stroke-width="3.4" stroke-dasharray="21.2 22.9" stroke-dashoffset="10.8"/>
<line x1="1172.8" y1="67.6" x2="1172.8" y2="950.5" stroke="#22D800" stroke-width="3.4" stroke-dasharray="21.2 22.9" stroke-dashoffset="10.4"/>
<line x1="1227.5" y1="72" x2="1227.5" y2="953.4" stroke="#00000F" stroke-width="3.4" stroke-dasharray="21.2 22.9" stroke-dashoffset="11.3"/>
<rect x="327.4" y="267.6" width="282.2" height="58.5" fill="#fff" stroke="#4a4a4a" stroke-width="1.3"/>
<line x1="351.6" y1="277.6" x2="414.7" y2="277.6" stroke="#FF0000" stroke-width="3.4" />
<line x1="351.6" y1="296.1" x2="414.7" y2="296.1" stroke="#00FF00" stroke-width="3.4" />
<line x1="351.6" y1="314.1" x2="414.7" y2="314.1" stroke="#000000" stroke-width="3.4" />
<text x="421.3" y="285.5" font-family='"Liberation Sans", sans-serif' font-size="18.5" font-weight="bold" fill="#000" textLength="125.8" lengthAdjust="spacingAndGlyphs" >Observation</text>
<text x="421.3" y="303.4" font-family='"Liberation Sans", sans-serif' font-size="18.5" font-weight="bold" fill="#000" textLength="62.8" lengthAdjust="spacingAndGlyphs" >Linear</text>
<text x="421.3" y="321.7" font-family='"Liberation Sans", sans-serif' font-size="18.5" font-weight="bold" fill="#000" textLength="90.8" lengthAdjust="spacingAndGlyphs" >Seasonal</text>
<rect x="995.3" y="269" width="275.7" height="58.2" fill="#fff" stroke="#4a4a4a" stroke-width="1.3"/>
<line x1="1017.2" y1="279.9" x2="1080" y2="279.9" stroke="#FF0000" stroke-width="3.4" />
<line x1="1017.2" y1="298.3" x2="1080" y2="298.3" stroke="#00FF00" stroke-width="3.4" />
<line x1="1017.2" y1="316.4" x2="1080" y2="316.4" stroke="#000000" stroke-width="3.4" />
<text x="1086.5" y="287.9" font-family='"Liberation Sans", sans-serif' font-size="18.5" font-weight="bold" fill="#000" textLength="125.8" lengthAdjust="spacingAndGlyphs" >Observation</text>
<text x="1086.5" y="305.8" font-family='"Liberation Sans", sans-serif' font-size="18.5" font-weight="bold" fill="#000" textLength="62.8" lengthAdjust="spacingAndGlyphs" >Linear</text>
<text x="1086.5" y="324.1" font-family='"Liberation Sans", sans-serif' font-size="18.5" font-weight="bold" fill="#000" textLength="90.8" lengthAdjust="spacingAndGlyphs" >Seasonal</text>
<text x="117.9" y="964.6" font-family='"Liberation Sans", sans-serif' font-size="24" font-weight="bold" fill="#262626" text-anchor="end" textLength="127.8" lengthAdjust="spacingAndGlyphs" transform="rotate(-90 117.9 964.6)" >2017/04/01</text>
<text x="151.2" y="964.6" font-family='"Liberation Sans", sans-serif' font-size="24" font-weight="bold" fill="#262626" text-anchor="end" textLength="127.8" lengthAdjust="spacingAndGlyphs" transform="rotate(-90 151.2 964.6)" >2017/07/01</text>
<text x="184.9" y="964.6" font-family='"Liberation Sans", sans-serif' font-size="24" font-weight="bold" fill="#262626" text-anchor="end" textLength="127.8" lengthAdjust="spacingAndGlyphs" transform="rotate(-90 184.9 964.6)" >2017/10/01</text>
<text x="218.6" y="964.6" font-family='"Liberation Sans", sans-serif' font-size="24" font-weight="bold" fill="#262626" text-anchor="end" textLength="127.8" lengthAdjust="spacingAndGlyphs" transform="rotate(-90 218.6 964.6)" >2018/01/01</text>
<text x="251.5" y="964.6" font-family='"Liberation Sans", sans-serif' font-size="24" font-weight="bold" fill="#262626" text-anchor="end" textLength="127.8" lengthAdjust="spacingAndGlyphs" transform="rotate(-90 251.5 964.6)" >2018/04/01</text>
<text x="284.9" y="964.6" font-family='"Liberation Sans", sans-serif' font-size="24" font-weight="bold" fill="#262626" text-anchor="end" textLength="127.8" lengthAdjust="spacingAndGlyphs" transform="rotate(-90 284.9 964.6)" >2018/07/01</text>
<text x="318.6" y="964.6" font-family='"Liberation Sans", sans-serif' font-size="24" font-weight="bold" fill="#262626" text-anchor="end" textLength="127.8" lengthAdjust="spacingAndGlyphs" transform="rotate(-90 318.6 964.6)" >2018/10/01</text>
<text x="352.2" y="964.6" font-family='"Liberation Sans", sans-serif' font-size="24" font-weight="bold" fill="#262626" text-anchor="end" textLength="127.8" lengthAdjust="spacingAndGlyphs" transform="rotate(-90 352.2 964.6)" >2019/01/01</text>
<text x="385.2" y="964.6" font-family='"Liberation Sans", sans-serif' font-size="24" font-weight="bold" fill="#262626" text-anchor="end" textLength="127.8" lengthAdjust="spacingAndGlyphs" transform="rotate(-90 385.2 964.6)" >2019/04/01</text>
<text x="418.5" y="964.6" font-family='"Liberation Sans", sans-serif' font-size="24" font-weight="bold" fill="#262626" text-anchor="end" textLength="127.8" lengthAdjust="spacingAndGlyphs" transform="rotate(-90 418.5 964.6)" >2019/07/01</text>
<text x="452.2" y="964.6" font-family='"Liberation Sans", sans-serif' font-size="24" font-weight="bold" fill="#262626" text-anchor="end" textLength="127.8" lengthAdjust="spacingAndGlyphs" transform="rotate(-90 452.2 964.6)" >2019/10/01</text>
<text x="485.9" y="964.6" font-family='"Liberation Sans", sans-serif' font-size="24" font-weight="bold" fill="#262626" text-anchor="end" textLength="127.8" lengthAdjust="spacingAndGlyphs" transform="rotate(-90 485.9 964.6)" >2020/01/01</text>
<text x="519.2" y="964.6" font-family='"Liberation Sans", sans-serif' font-size="24" font-weight="bold" fill="#262626" text-anchor="end" textLength="127.8" lengthAdjust="spacingAndGlyphs" transform="rotate(-90 519.2 964.6)" >2020/04/01</text>
<text x="552.5" y="964.6" font-family='"Liberation Sans", sans-serif' font-size="24" font-weight="bold" fill="#262626" text-anchor="end" textLength="127.8" lengthAdjust="spacingAndGlyphs" transform="rotate(-90 552.5 964.6)" >2020/07/01</text>
<text x="586.2" y="964.6" font-family='"Liberation Sans", sans-serif' font-size="24" font-weight="bold" fill="#262626" text-anchor="end" textLength="127.8" lengthAdjust="spacingAndGlyphs" transform="rotate(-90 586.2 964.6)" >2020/10/01</text>
<text x="619.9" y="964.6" font-family='"Liberation Sans", sans-serif' font-size="24" font-weight="bold" fill="#262626" text-anchor="end" textLength="127.8" lengthAdjust="spacingAndGlyphs" transform="rotate(-90 619.9 964.6)" >2021/01/01</text>
<text x="359.8" y="1123.3" font-family='"Liberation Sans", sans-serif' font-size="28" font-weight="bold" fill="#262626" text-anchor="middle" textLength="145.5" lengthAdjust="spacingAndGlyphs" >Acquisition</text>
<text x="778.9" y="964.6" font-family='"Liberation Sans", sans-serif' font-size="24" font-weight="bold" fill="#262626" text-anchor="end" textLength="127.8" lengthAdjust="spacingAndGlyphs" transform="rotate(-90 778.9 964.6)" >2017/04/01</text>
<text x="812.2" y="964.6" font-family='"Liberation Sans", sans-serif' font-size="24" font-weight="bold" fill="#262626" text-anchor="end" textLength="127.8" lengthAdjust="spacingAndGlyphs" transform="rotate(-90 812.2 964.6)" >2017/07/01</text>
<text x="845.9" y="964.6" font-family='"Liberation Sans", sans-serif' font-size="24" font-weight="bold" fill="#262626" text-anchor="end" textLength="127.8" lengthAdjust="spacingAndGlyphs" transform="rotate(-90 845.9 964.6)" >2017/10/01</text>
<text x="879.6" y="964.6" font-family='"Liberation Sans", sans-serif' font-size="24" font-weight="bold" fill="#262626" text-anchor="end" textLength="127.8" lengthAdjust="spacingAndGlyphs" transform="rotate(-90 879.6 964.6)" >2018/01/01</text>
<text x="912.5" y="964.6" font-family='"Liberation Sans", sans-serif' font-size="24" font-weight="bold" fill="#262626" text-anchor="end" textLength="127.8" lengthAdjust="spacingAndGlyphs" transform="rotate(-90 912.5 964.6)" >2018/04/01</text>
<text x="945.9" y="964.6" font-family='"Liberation Sans", sans-serif' font-size="24" font-weight="bold" fill="#262626" text-anchor="end" textLength="127.8" lengthAdjust="spacingAndGlyphs" transform="rotate(-90 945.9 964.6)" >2018/07/01</text>
<text x="979.6" y="964.6" font-family='"Liberation Sans", sans-serif' font-size="24" font-weight="bold" fill="#262626" text-anchor="end" textLength="127.8" lengthAdjust="spacingAndGlyphs" transform="rotate(-90 979.6 964.6)" >2018/10/01</text>
<text x="1013.2" y="964.6" font-family='"Liberation Sans", sans-serif' font-size="24" font-weight="bold" fill="#262626" text-anchor="end" textLength="127.8" lengthAdjust="spacingAndGlyphs" transform="rotate(-90 1013.2 964.6)" >2019/01/01</text>
<text x="1046.2" y="964.6" font-family='"Liberation Sans", sans-serif' font-size="24" font-weight="bold" fill="#262626" text-anchor="end" textLength="127.8" lengthAdjust="spacingAndGlyphs" transform="rotate(-90 1046.2 964.6)" >2019/04/01</text>
<text x="1079.5" y="964.6" font-family='"Liberation Sans", sans-serif' font-size="24" font-weight="bold" fill="#262626" text-anchor="end" textLength="127.8" lengthAdjust="spacingAndGlyphs" transform="rotate(-90 1079.5 964.6)" >2019/07/01</text>
<text x="1113.2" y="964.6" font-family='"Liberation Sans", sans-serif' font-size="24" font-weight="bold" fill="#262626" text-anchor="end" textLength="127.8" lengthAdjust="spacingAndGlyphs" transform="rotate(-90 1113.2 964.6)" >2019/10/01</text>
<text x="1146.9" y="964.6" font-family='"Liberation Sans", sans-serif' font-size="24" font-weight="bold" fill="#262626" text-anchor="end" textLength="127.8" lengthAdjust="spacingAndGlyphs" transform="rotate(-90 1146.9 964.6)" >2020/01/01</text>
<text x="1180.2" y="964.6" font-family='"Liberation Sans", sans-serif' font-size="24" font-weight="bold" fill="#262626" text-anchor="end" textLength="127.8" lengthAdjust="spacingAndGlyphs" transform="rotate(-90 1180.2 964.6)" >2020/04/01</text>
<text x="1213.5" y="964.6" font-family='"Liberation Sans", sans-serif' font-size="24" font-weight="bold" fill="#262626" text-anchor="end" textLength="127.8" lengthAdjust="spacingAndGlyphs" transform="rotate(-90 1213.5 964.6)" >2020/07/01</text>
<text x="1247.2" y="964.6" font-family='"Liberation Sans", sans-serif' font-size="24" font-weight="bold" fill="#262626" text-anchor="end" textLength="127.8" lengthAdjust="spacingAndGlyphs" transform="rotate(-90 1247.2 964.6)" >2020/10/01</text>
<text x="1280.9" y="964.6" font-family='"Liberation Sans", sans-serif' font-size="24" font-weight="bold" fill="#262626" text-anchor="end" textLength="127.8" lengthAdjust="spacingAndGlyphs" transform="rotate(-90 1280.9 964.6)" >2021/01/01</text>
<text x="1020.8" y="1123.3" font-family='"Liberation Sans", sans-serif' font-size="28" font-weight="bold" fill="#262626" text-anchor="middle" textLength="145.5" lengthAdjust="spacingAndGlyphs" >Acquisition</text>
<text x="40.2" y="632.4" font-family='"Liberation Sans", sans-serif' font-size="26" font-weight="bold" fill="#262626" text-anchor="middle" textLength="388.5" lengthAdjust="spacingAndGlyphs" transform="rotate(-90 40.2 632.4)" >Deformation Time Series (mm)</text>
</svg>
</body></html>
